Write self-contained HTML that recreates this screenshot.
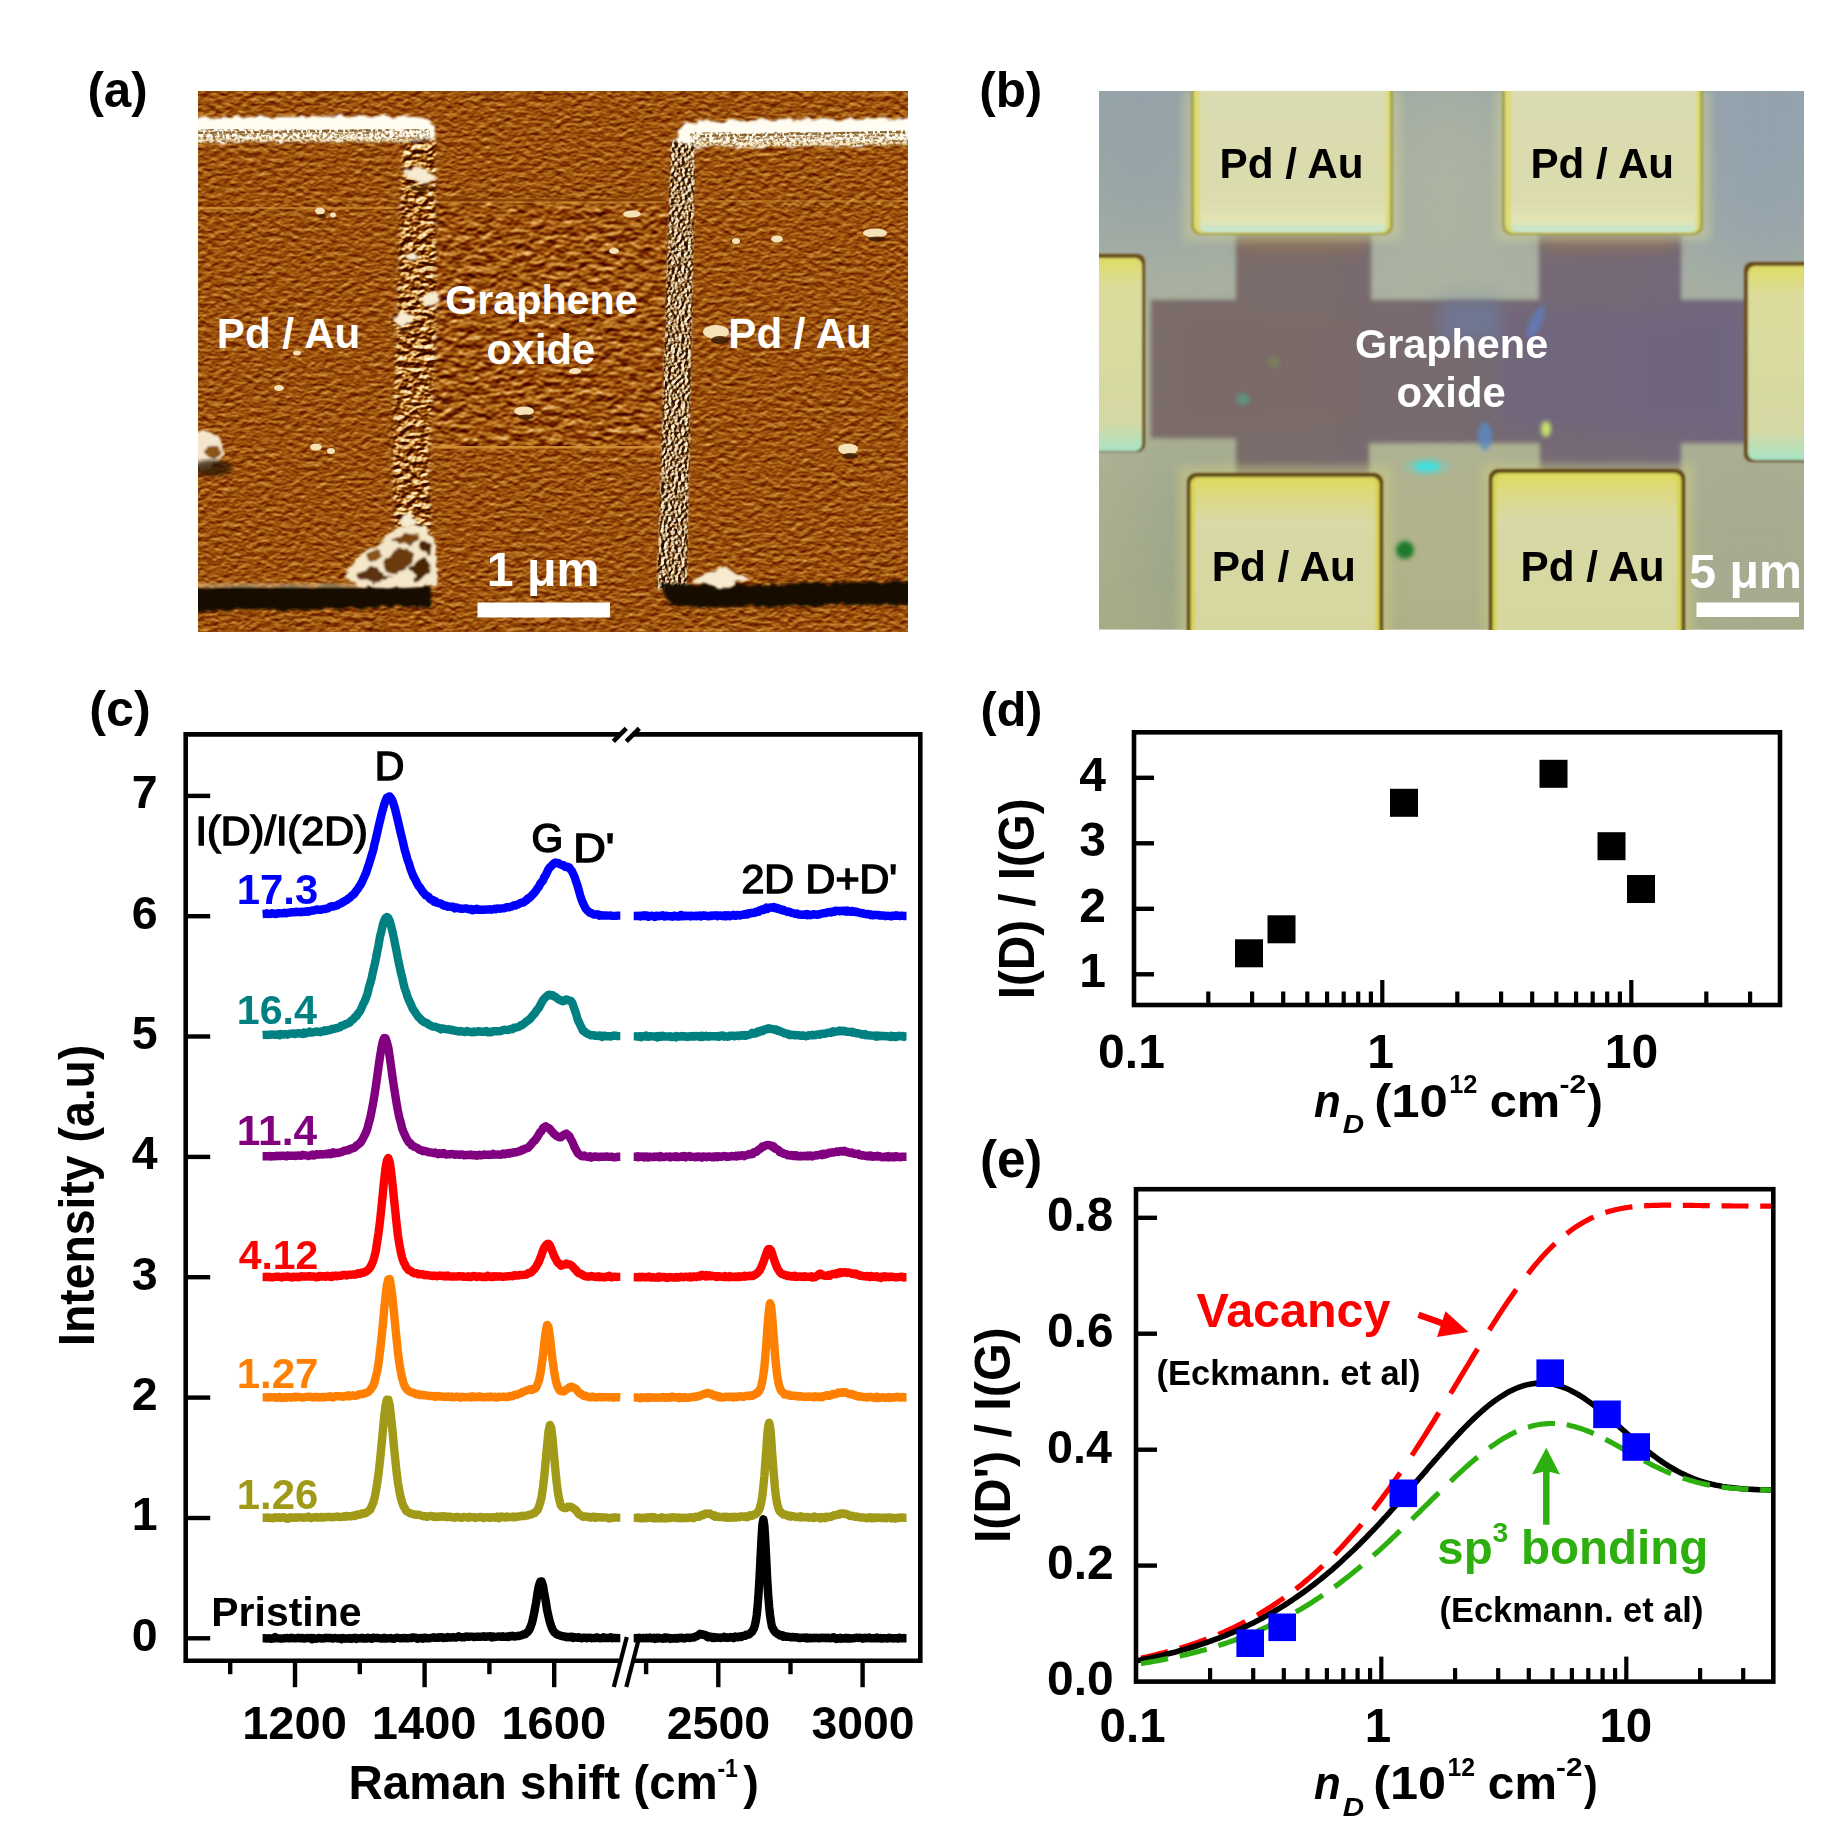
<!DOCTYPE html>
<html><head><meta charset="utf-8"><title>Figure</title>
<style>html,body{margin:0;padding:0;background:#fff}svg{display:block}
text{font-family:"Liberation Sans",Arial,sans-serif;font-weight:bold}
.r{font-weight:normal}
</style></head><body>
<svg width="1836" height="1836" viewBox="0 0 1836 1836">
<rect width="1836" height="1836" fill="#fff"/>

<defs>
<filter id="texA" x="0" y="0" width="100%" height="100%" color-interpolation-filters="sRGB">
  <feTurbulence type="fractalNoise" baseFrequency="0.13 0.2" numOctaves="2" seed="4" result="n"/>
  <feDiffuseLighting in="n" surfaceScale="1.25" diffuseConstant="1" lighting-color="#fff">
    <feDistantLight azimuth="262" elevation="30"/>
  </feDiffuseLighting>
  <feComponentTransfer>
    <feFuncR type="table" tableValues="0.24 0.44 0.605 0.79 1"/>
    <feFuncG type="table" tableValues="0.03 0.14 0.318 0.53 0.92"/>
    <feFuncB type="table" tableValues="0 0 0.04 0.2 0.75"/>
  </feComponentTransfer>
</filter>
<filter id="texGO" x="0" y="0" width="100%" height="100%" color-interpolation-filters="sRGB">
  <feTurbulence type="fractalNoise" baseFrequency="0.095 0.13" numOctaves="2" seed="11" result="n"/>
  <feDiffuseLighting in="n" surfaceScale="2.5" diffuseConstant="1" lighting-color="#fff">
    <feDistantLight azimuth="262" elevation="30"/>
  </feDiffuseLighting>
  <feComponentTransfer>
    <feFuncR type="table" tableValues="0.24 0.44 0.61 0.79 1"/>
    <feFuncG type="table" tableValues="0.03 0.14 0.322 0.53 0.92"/>
    <feFuncB type="table" tableValues="0 0 0.04 0.2 0.75"/>
  </feComponentTransfer>
</filter>
<filter id="speck" x="-5%" y="-5%" width="110%" height="110%" color-interpolation-filters="sRGB">
  <feTurbulence type="fractalNoise" baseFrequency="0.35 0.3" numOctaves="2" seed="8" result="n"/>
  <feColorMatrix in="n" type="matrix" values="0 0 0 0 0  0 0 0 0 0  0 0 0 0 0  3.2 0 0 0 -1.25" result="m"/>
  <feComposite in="SourceGraphic" in2="m" operator="in"/>
</filter>
<filter id="speckD" x="-5%" y="-5%" width="110%" height="110%" color-interpolation-filters="sRGB">
  <feTurbulence type="fractalNoise" baseFrequency="0.3 0.35" numOctaves="2" seed="21" result="n"/>
  <feColorMatrix in="n" type="matrix" values="0 0 0 0 0  0 0 0 0 0  0 0 0 0 0  0 3.2 0 0 -1.35" result="m"/>
  <feComposite in="SourceGraphic" in2="m" operator="in"/>
</filter>
<filter id="rough" x="-5%" y="-20%" width="110%" height="140%">
  <feTurbulence type="fractalNoise" baseFrequency="0.09 0.12" numOctaves="2" seed="5" result="n"/>
  <feDisplacementMap in="SourceGraphic" in2="n" scale="9" xChannelSelector="R" yChannelSelector="G"/>
  <feGaussianBlur stdDeviation="0.8"/>
</filter>
<filter id="texEdge" x="0" y="0" width="100%" height="100%" color-interpolation-filters="sRGB">
  <feTurbulence type="fractalNoise" baseFrequency="0.13 0.17" numOctaves="2" seed="7" result="n"/>
  <feDiffuseLighting in="n" surfaceScale="3.6" diffuseConstant="1" lighting-color="#fff">
    <feDistantLight azimuth="250" elevation="32"/>
  </feDiffuseLighting>
  <feComponentTransfer>
    <feFuncR type="table" tableValues="0.2 0.42 0.62 0.9 1"/>
    <feFuncG type="table" tableValues="0.03 0.15 0.35 0.72 1"/>
    <feFuncB type="table" tableValues="0 0 0.06 0.42 0.9"/>
  </feComponentTransfer>
</filter>
<filter id="texEdge2" x="0" y="0" width="100%" height="100%" color-interpolation-filters="sRGB">
  <feTurbulence type="fractalNoise" baseFrequency="0.3 0.3" numOctaves="2" seed="17" result="n"/>
  <feDiffuseLighting in="n" surfaceScale="4.5" diffuseConstant="1" lighting-color="#fff">
    <feDistantLight azimuth="200" elevation="40"/>
  </feDiffuseLighting>
  <feComponentTransfer>
    <feFuncR type="table" tableValues="0.16 0.36 0.58 0.8 1"/>
    <feFuncG type="table" tableValues="0.06 0.2 0.43 0.7 0.97"/>
    <feFuncB type="table" tableValues="0 0.05 0.24 0.54 0.9"/>
  </feComponentTransfer>
</filter>
<mask id="mEdgeL"><g filter="url(#b2)"><path d="M402,142 L436,139 L437,330 L430,450 L432,586 L398,590 L391,450 L396,330 Z" fill="#fff"/><ellipse cx="420" cy="170" rx="17" ry="20" fill="#fff"/><ellipse cx="410" cy="322" rx="20" ry="12" fill="#fff"/></g></mask>
<mask id="mEdgeR"><g filter="url(#b1)"><path d="M671,140 L695,146 L687,586 L657,590 Z" fill="#fff"/></g></mask>
<filter id="b1"><feGaussianBlur stdDeviation="1.2"/></filter>
<filter id="b2"><feGaussianBlur stdDeviation="2.2"/></filter>
<filter id="b4"><feGaussianBlur stdDeviation="4"/></filter>
<filter id="b8"><feGaussianBlur stdDeviation="8"/></filter>
<filter id="b30" x="-30%" y="-30%" width="160%" height="160%"><feGaussianBlur stdDeviation="40"/></filter>
<clipPath id="ca"><rect x="198" y="91" width="710" height="541"/></clipPath>
<clipPath id="cb"><rect x="1099" y="91" width="705" height="538.5"/></clipPath>
</defs>

<g id="pa" clip-path="url(#ca)">
<rect x="198" y="91" width="710" height="541" fill="#b26210" filter="url(#texA)"/>
<!-- graphene oxide region, bumpier -->
<rect x="425" y="201" width="250" height="246" fill="#b26210" filter="url(#texGO)"/>
<!-- faint horizontal scan lines -->
<rect x="198" y="207" width="210" height="2" fill="#d89a3a" opacity=".6"/>
<rect x="436" y="199" width="230" height="2.2" fill="#7a3a06" opacity=".7"/><rect x="436" y="201.5" width="230" height="1.8" fill="#d89a3a" opacity=".6"/>
<rect x="425" y="446" width="240" height="2.5" fill="#dc9a38" opacity=".8"/>
<rect x="690" y="447" width="218" height="2" fill="#8a4208" opacity=".5"/>
<rect x="690" y="200" width="218" height="2" fill="#d89a3a" opacity=".45"/>
<!-- left pad: top highlight -->
<g filter="url(#rough)">
<path d="M190,117.5 L400,116 L424,118 L436,128 L434,147 L414,142 L300,141.5 L190,143 Z" fill="#fffdf2"/>
</g>
<path d="M190,140 L300,139 L410,139.5" stroke="#f6e4b8" stroke-width="5" fill="none" opacity=".9" filter="url(#rough)"/><path d="M198,133 L320,131 L382,130.5" stroke="#6a4a18" stroke-width="2.2" stroke-dasharray="5,2,2,3,7,2,3,4" fill="none" opacity=".8"/><path d="M204,135 L300,133.5 L372,133" stroke="#a88040" stroke-width="1.6" stroke-dasharray="3,5,6,3,2,6" fill="none" opacity=".8"/>
<rect x="198" y="129" width="232" height="15" fill="#8a5a1c" filter="url(#speckD)" opacity=".9"/>
<!-- left pad right rough edge -->
<rect x="340" y="110" width="110" height="500" filter="url(#texEdge)" mask="url(#mEdgeL)"/>
<g filter="url(#rough)" fill="#f6ead0">
<path d="M403,172 L414,166 L428,170 L436,178 L424,184 L410,180 Z"/>
<path d="M392,318 L402,312 L414,316 L410,324 L398,326 Z"/>
<path d="M418,298 L432,292 L440,300 L428,306 Z"/>
<path d="M404,256 L412,250 L420,256 L412,262 Z"/>
<path d="M398,520 L408,512 L418,520 L408,528 Z"/>
</g>
<g filter="url(#rough)" fill="#4a2406">
<path d="M408,184 L424,188 L432,184 L426,192 L412,190 Z"/>
<path d="M396,328 L410,328 L404,333 Z"/>
</g>
<!-- bottom shadow left pad -->
<g filter="url(#rough)">
<path d="M190,587.5 L360,585.5 L431,587 L430,606 L330,609 L190,611 Z" fill="#120900"/>
</g>
<rect x="198" y="583" width="170" height="5" fill="#e8c890" opacity=".55" filter="url(#b1)"/>
<!-- corner blob -->
<g filter="url(#rough)">
<path d="M346,576 L356,560 L370,548 L384,540 L392,530 L410,524 L428,528 L436,546 L436,586 L404,588 L360,586 Z" fill="#f4e6c8"/>
<path d="M384,562 L398,548 L414,552 L408,568 L390,574 Z" fill="#6a3a0c"/>
<path d="M410,566 L426,556 L432,572 L416,582 Z" fill="#4a2606"/>
<path d="M356,574 L372,566 L390,578 L372,584 Z" fill="#5a300a"/>
<path d="M392,540 L404,532 L420,536 L410,546 Z" fill="#7a4410"/>
<path d="M420,540 L432,544 L430,554 L420,550 Z" fill="#4a2606"/>
<path d="M366,556 L378,548 L384,556 L372,562 Z" fill="#8a5418"/>
</g>
<!-- left edge blob -->
<g filter="url(#rough)"><ellipse cx="203" cy="450" rx="20" ry="19" fill="#f4e6cc"/><ellipse cx="212" cy="452" rx="8" ry="6" fill="#8a5418"/></g>
<ellipse cx="212" cy="468" rx="20" ry="8" fill="#2a1402" opacity=".8" filter="url(#b2)"/>
<!-- right pad top highlight -->
<g filter="url(#rough)">
<path d="M672,142 L686,122 L800,119.5 L915,118 L915,144 L800,146 L700,147 L682,150 Z" fill="#fffdf2"/>
</g>
<path d="M696,145 L800,144 L915,142" stroke="#f6e4b8" stroke-width="5" fill="none" opacity=".9" filter="url(#rough)"/><path d="M700,136 L800,134 L908,131.5" stroke="#6a4a18" stroke-width="2.2" stroke-dasharray="5,2,2,3,7,2,3,4" fill="none" opacity=".8"/><path d="M706,139 L800,137 L900,135" stroke="#a88040" stroke-width="1.6" stroke-dasharray="3,5,6,3,2,6" fill="none" opacity=".8"/>
<rect x="690" y="132" width="218" height="15" fill="#8a5a1c" filter="url(#speckD)" opacity=".9"/>
<!-- right pad left edge -->
<rect x="650" y="130" width="55" height="470" filter="url(#texEdge2)" mask="url(#mEdgeR)"/>
<!-- bottom shadow right pad -->
<g filter="url(#rough)">
<path d="M661,583 L700,585 L915,581 L915,604 L700,607 L670,605 Z" fill="#120900"/>
</g>
<g filter="url(#rough)"><path d="M690,582 L725,566 L748,580 L720,588 Z" fill="#f6ead0"/></g>
<!-- small particles -->
<g fill="#f6e2b8">
<ellipse cx="320" cy="211" rx="5" ry="3.5"/><ellipse cx="333" cy="215" rx="3" ry="2.5"/>
<ellipse cx="279" cy="388" rx="5" ry="3"/><ellipse cx="316" cy="447" rx="6" ry="3.5"/><ellipse cx="331" cy="451" rx="4" ry="3"/>
<ellipse cx="297" cy="353" rx="4" ry="2.5"/>
<ellipse cx="632" cy="214" rx="9" ry="3.5"/><ellipse cx="614" cy="251" rx="5" ry="3"/>
<ellipse cx="524" cy="411" rx="10" ry="4.5"/><ellipse cx="575" cy="371" rx="6" ry="3"/>
<ellipse cx="716" cy="332" rx="13" ry="7"/><ellipse cx="777" cy="239" rx="6" ry="3.5"/>
<ellipse cx="875" cy="233" rx="12" ry="4.5"/><ellipse cx="848" cy="449" rx="10" ry="5.5"/><ellipse cx="736" cy="241" rx="4" ry="3"/>
</g>
<g fill="#3a1a02" opacity=".85">
<ellipse cx="720" cy="340" rx="9" ry="4"/><ellipse cx="850" cy="456" rx="8" ry="3"/><ellipse cx="877" cy="239" rx="9" ry="2.5"/>
<ellipse cx="526" cy="417" rx="8" ry="2.5"/><ellipse cx="322" cy="216" rx="4" ry="2"/>
</g>
<!-- labels -->
<rect x="477.5" y="602.5" width="132.5" height="15" fill="#fff"/>
</g>

<text x="87.4" y="107.2" font-size="49.33" fill="#000">(a)</text>
<text x="216.8" y="347.5" font-size="42.11" fill="#fff">Pd / Au</text>
<text x="728.3" y="347.5" font-size="42.14" fill="#fff">Pd / Au</text>
<text x="445.2" y="314.0" font-size="41.22" fill="#fff">Graphene</text>
<text x="486.4" y="364.0" font-size="41.62" fill="#fff">oxide</text>
<text x="486.7" y="586.4" font-size="48.31" fill="#fff">1 μm</text>
<g id="pb" clip-path="url(#cb)">
<linearGradient id="bgb" x1="0" y1="0" x2="0" y2="1">
 <stop offset="0" stop-color="#98a6a8"/><stop offset=".35" stop-color="#a9b1a1"/><stop offset=".7" stop-color="#adb293"/><stop offset="1" stop-color="#a9ad86"/>
</linearGradient>
<linearGradient id="gog" x1="0" y1="0" x2="1" y2="0"><stop offset="0" stop-color="#7b6d69"/><stop offset=".5" stop-color="#776b70"/><stop offset="1" stop-color="#72687c"/></linearGradient>
<linearGradient id="padT" x1="0" y1="0" x2="0" y2="1">
 <stop offset="0" stop-color="#d9dbb0"/><stop offset=".8" stop-color="#dcdcae"/><stop offset=".93" stop-color="#e2e4b4"/><stop offset="1" stop-color="#bfe6d2"/>
</linearGradient>
<linearGradient id="padB" x1="0" y1="0" x2="0" y2="1">
 <stop offset="0" stop-color="#dedc62"/><stop offset=".12" stop-color="#dcd98a"/><stop offset=".25" stop-color="#d9d9a6"/><stop offset="1" stop-color="#d6d69e"/>
</linearGradient>
<linearGradient id="padS" x1="0" y1="0" x2="0" y2="1">
 <stop offset="0" stop-color="#dedc66"/><stop offset=".15" stop-color="#dcdc9c"/><stop offset=".85" stop-color="#d6d8a4"/><stop offset="1" stop-color="#a8e4c4"/>
</linearGradient>
<rect x="1099" y="91" width="705" height="539" fill="url(#bgb)"/>
<!-- large soft colour variations -->
<g filter="url(#b30)">
<rect x="1080" y="70" width="120" height="170" fill="#8a9cac" opacity=".4"/>
<rect x="1700" y="70" width="130" height="200" fill="#8c9cb4" opacity=".6"/>
<rect x="1380" y="80" width="130" height="180" fill="#b4b8a0" opacity=".7"/>
<rect x="1150" y="450" width="80" height="190" fill="#8f9c8c" opacity=".6"/>
<rect x="1380" y="460" width="120" height="180" fill="#b6b68c" opacity=".7"/>
<rect x="1690" y="450" width="130" height="190" fill="#a4a894" opacity=".7"/>
</g>
<!-- graphene oxide -->
<g filter="url(#b2)">
<path d="M1151,300 H1236 V228 H1371 V300 H1539 V228 H1681 V300 H1746 V443 H1681 V478 H1540 V443 H1369 V478 H1236 V438 H1151 Z" fill="url(#gog)"/>
</g>
<g filter="url(#b8)" opacity=".55">
<rect x="1240" y="234" width="125" height="16" fill="#a07848"/>
<rect x="1543" y="234" width="134" height="16" fill="#a07848"/>
<rect x="1500" y="310" width="240" height="120" fill="#6f6482"/>
<rect x="1160" y="310" width="200" height="120" fill="#7c6a66"/>
<rect x="1440" y="300" width="60" height="40" fill="#6a80b0"/>
</g>
<!-- lighter halo around pads -->
<g filter="url(#b4)" opacity=".55">
<rect x="1183" y="91" width="218" height="150" fill="#c8cc9c"/>
<rect x="1495" y="91" width="216" height="150" fill="#c8cc9c"/>
<rect x="1178" y="466" width="214" height="170" fill="#c8c884"/>
<rect x="1482" y="464" width="212" height="170" fill="#c8c884"/>
</g>
<!-- top pads -->
<g filter="url(#b1)">
<rect x="1191" y="70" width="202" height="165" rx="9" fill="#a8a04a"/>
<rect x="1502" y="70" width="201" height="165" rx="9" fill="#a8a04a"/>
<rect x="1194" y="70" width="196" height="163" rx="8" fill="#dcdc78"/>
<rect x="1505" y="70" width="195" height="163" rx="8" fill="#dcdc78"/>
<rect x="1200" y="70" width="186" height="162" rx="6" fill="url(#padT)"/>
<rect x="1511" y="70" width="185" height="162" rx="6" fill="url(#padT)"/>
</g>
<!-- side pads -->
<g filter="url(#b1)">
<rect x="1070" y="254" width="75" height="198" rx="8" fill="#6a4a18"/>
<rect x="1070" y="258" width="72" height="193" rx="7" fill="url(#padS)"/>
<rect x="1744" y="262" width="90" height="200" rx="8" fill="#6a4a18"/>
<rect x="1748" y="266" width="90" height="194" rx="7" fill="url(#padS)"/>
</g>
<!-- bottom pads -->
<g filter="url(#b1)">
<rect x="1187" y="473" width="196" height="180" rx="9" fill="#5e4612"/>
<rect x="1489" y="469" width="196" height="180" rx="9" fill="#5e4612"/>
<rect x="1190.5" y="477" width="189" height="180" rx="7" fill="#d8d456"/>
<rect x="1492.5" y="473" width="189" height="180" rx="7" fill="#d8d456"/>
<rect x="1195" y="479" width="180" height="180" rx="5" fill="url(#padB)"/>
<rect x="1497" y="475" width="180" height="180" rx="5" fill="url(#padB)"/>
</g>
<!-- spots -->
<g filter="url(#b2)">
<ellipse cx="1427" cy="466.5" rx="13" ry="5.5" fill="#38e0dc"/>
<ellipse cx="1427" cy="466.5" rx="24" ry="9" fill="#60d8d8" opacity=".3"/>
<circle cx="1405" cy="550" r="9" fill="#1f7a2a"/>
<ellipse cx="1546" cy="429" rx="5" ry="8" fill="#c8e070"/>
<ellipse cx="1485" cy="436" rx="7" ry="14" fill="#5a8cc8" opacity=".8"/>
<ellipse cx="1243" cy="399" rx="7" ry="6" fill="#5a9a84" opacity=".8"/>
<ellipse cx="1274" cy="362" rx="6" ry="6" fill="#7a8a5c" opacity=".7"/>
<ellipse cx="1536" cy="322" rx="6" ry="18" fill="#5a84d0" opacity=".6" transform="rotate(25 1536 322)"/>
</g>
<!-- labels -->
<rect x="1696.5" y="602.5" width="102.5" height="14.5" fill="#fff"/>
</g>

<text x="979.2" y="106.5" font-size="49.41" fill="#000">(b)</text>
<text x="1219.6" y="177.5" font-size="42.26" fill="#000">Pd / Au</text>
<text x="1530.5" y="177.5" font-size="42.14" fill="#000">Pd / Au</text>
<text x="1211.7" y="581.3" font-size="42.32" fill="#000">Pd / Au</text>
<text x="1520.6" y="581.3" font-size="42.26" fill="#000">Pd / Au</text>
<text x="1355.0" y="357.7" font-size="41.39" fill="#fff">Graphene</text>
<text x="1396.6" y="406.7" font-size="41.81" fill="#fff">oxide</text>
<text x="1689.3" y="587.7" font-size="48.24" fill="#fff">5 μm</text>
<g id="pc">
<path d="M185.7,1660.7 V734.4 H618.3 M634.3,734.4 H920.3 V1660.7 H634.3 M618.3,1660.7 H185.7" fill="none" stroke="#000" stroke-width="4.6" stroke-linecap="square"/>
<line x1="613.3" y1="741.4" x2="626.3" y2="728.4" stroke="#000" stroke-width="4.6"/>
<line x1="626.3" y1="741.4" x2="639.3" y2="728.4" stroke="#000" stroke-width="4.6"/>
<line x1="613.8" y1="1687" x2="626.8" y2="1637" stroke="#000" stroke-width="4.2"/>
<line x1="626.3" y1="1687" x2="639.3" y2="1637" stroke="#000" stroke-width="4.2"/>
<line x1="185.7" y1="1638.3" x2="210.2" y2="1638.3" stroke="#000" stroke-width="4.4"/>
<text x="157.5" y="1650.7" font-size="46.5" text-anchor="end">0</text>
<line x1="185.7" y1="1518.0" x2="210.2" y2="1518.0" stroke="#000" stroke-width="4.4"/>
<text x="157.5" y="1530.4" font-size="46.5" text-anchor="end">1</text>
<line x1="185.7" y1="1397.6" x2="210.2" y2="1397.6" stroke="#000" stroke-width="4.4"/>
<text x="157.5" y="1410.0" font-size="46.5" text-anchor="end">2</text>
<line x1="185.7" y1="1277.2" x2="210.2" y2="1277.2" stroke="#000" stroke-width="4.4"/>
<text x="157.5" y="1289.7" font-size="46.5" text-anchor="end">3</text>
<line x1="185.7" y1="1156.9" x2="210.2" y2="1156.9" stroke="#000" stroke-width="4.4"/>
<text x="157.5" y="1169.3" font-size="46.5" text-anchor="end">4</text>
<line x1="185.7" y1="1036.5" x2="210.2" y2="1036.5" stroke="#000" stroke-width="4.4"/>
<text x="157.5" y="1049.0" font-size="46.5" text-anchor="end">5</text>
<line x1="185.7" y1="916.2" x2="210.2" y2="916.2" stroke="#000" stroke-width="4.4"/>
<text x="157.5" y="928.6" font-size="46.5" text-anchor="end">6</text>
<line x1="185.7" y1="795.9" x2="210.2" y2="795.9" stroke="#000" stroke-width="4.4"/>
<text x="157.5" y="808.2" font-size="46.5" text-anchor="end">7</text>
<line x1="230.2" y1="1660.7" x2="230.2" y2="1674.2" stroke="#000" stroke-width="4.4"/>
<line x1="295.0" y1="1660.7" x2="295.0" y2="1687.2" stroke="#000" stroke-width="4.4"/>
<text x="242.2" y="1739.3" font-size="47.06" fill="#000">1200</text>
<line x1="359.8" y1="1660.7" x2="359.8" y2="1674.2" stroke="#000" stroke-width="4.4"/>
<line x1="424.6" y1="1660.7" x2="424.6" y2="1687.2" stroke="#000" stroke-width="4.4"/>
<text x="371.8" y="1739.3" font-size="47.06" fill="#000">1400</text>
<line x1="489.4" y1="1660.7" x2="489.4" y2="1674.2" stroke="#000" stroke-width="4.4"/>
<line x1="554.2" y1="1660.7" x2="554.2" y2="1687.2" stroke="#000" stroke-width="4.4"/>
<text x="501.4" y="1739.3" font-size="47.06" fill="#000">1600</text>
<line x1="646.1" y1="1660.7" x2="646.1" y2="1674.2" stroke="#000" stroke-width="4.4"/>
<line x1="718.3" y1="1660.7" x2="718.3" y2="1687.2" stroke="#000" stroke-width="4.4"/>
<text x="666.7" y="1739.3" font-size="46.51" fill="#000">2500</text>
<line x1="790.5" y1="1660.7" x2="790.5" y2="1674.2" stroke="#000" stroke-width="4.4"/>
<line x1="862.6" y1="1660.7" x2="862.6" y2="1687.2" stroke="#000" stroke-width="4.4"/>
<text x="811.5" y="1739.3" font-size="46.30" fill="#000">3000</text>
<text x="348.6" y="1799.0" font-size="47.46" fill="#000">Raman shift (cm</text><text transform="translate(717.4,1777.3) scale(0.8858,1)" font-size="26.00" fill="#000">-1</text><text transform="translate(743.3,1799.0) scale(1.0111,1)" font-size="46.50" fill="#000">)</text>
<text transform="translate(93.7,1346.0) rotate(-90) scale(1,1.075)" font-size="46.37" fill="#000">Intensity (a.u)</text>
<path d="M262.6,1638.3 L264.0,1638.3 L265.4,1638.3 L266.7,1638.5 L268.1,1638.4 L269.5,1638.3 L270.9,1638.9 L272.3,1638.3 L273.6,1638.6 L275.0,1637.1 L276.4,1638.2 L277.8,1638.4 L279.2,1638.4 L280.6,1638.5 L281.9,1638.6 L283.3,1638.4 L284.7,1638.1 L286.1,1638.3 L287.5,1637.9 L288.8,1638.3 L290.2,1638.3 L291.6,1637.7 L293.0,1638.1 L294.4,1638.4 L295.7,1638.3 L297.1,1638.1 L298.5,1637.6 L299.9,1638.4 L301.3,1638.3 L302.7,1637.9 L304.0,1638.6 L305.4,1638.4 L306.8,1638.0 L308.2,1638.1 L309.6,1638.2 L310.9,1638.0 L312.3,1639.2 L313.7,1637.9 L315.1,1638.6 L316.5,1638.8 L317.8,1638.2 L319.2,1638.0 L320.6,1638.4 L322.0,1638.6 L323.4,1638.2 L324.7,1638.3 L326.1,1637.8 L327.5,1638.0 L328.9,1638.2 L330.3,1637.9 L331.7,1638.3 L333.0,1638.6 L334.4,1638.0 L335.8,1638.0 L337.2,1638.3 L338.6,1638.5 L339.9,1638.2 L341.3,1639.1 L342.7,1638.0 L344.1,1638.1 L345.5,1638.8 L346.8,1638.2 L348.2,1638.6 L349.6,1638.0 L351.0,1638.9 L352.4,1638.5 L353.8,1638.0 L355.1,1637.8 L356.5,1639.0 L357.9,1638.4 L359.3,1638.1 L360.7,1638.4 L362.0,1637.7 L363.4,1638.6 L364.8,1638.1 L366.2,1638.6 L367.6,1637.7 L368.9,1638.2 L370.3,1638.3 L371.7,1638.8 L373.1,1637.6 L374.5,1638.0 L375.8,1638.0 L377.2,1637.8 L378.6,1638.1 L380.0,1638.4 L381.4,1638.5 L382.8,1638.5 L384.1,1637.7 L385.5,1638.7 L386.9,1638.4 L388.3,1638.3 L389.7,1638.1 L391.0,1638.0 L392.4,1638.6 L393.8,1638.8 L395.2,1638.2 L396.6,1637.8 L397.9,1637.9 L399.3,1638.1 L400.7,1638.3 L402.1,1638.1 L403.5,1638.2 L404.8,1637.9 L406.2,1638.4 L407.6,1638.1 L409.0,1638.2 L410.4,1637.9 L411.8,1638.0 L413.1,1637.3 L414.5,1637.6 L415.9,1637.6 L417.3,1638.8 L418.7,1638.2 L420.0,1638.3 L421.4,1637.9 L422.8,1638.8 L424.2,1637.6 L425.6,1637.7 L426.9,1638.4 L428.3,1638.3 L429.7,1638.2 L431.1,1637.9 L432.5,1637.7 L433.9,1637.2 L435.2,1637.9 L436.6,1637.6 L438.0,1637.8 L439.4,1637.2 L440.8,1637.5 L442.1,1637.2 L443.5,1638.0 L444.9,1637.7 L446.3,1637.9 L447.7,1637.0 L449.0,1637.3 L450.4,1637.5 L451.8,1637.5 L453.2,1637.2 L454.6,1637.5 L455.9,1637.5 L457.3,1637.0 L458.7,1636.3 L460.1,1637.1 L461.5,1637.2 L462.9,1637.3 L464.2,1637.3 L465.6,1636.7 L467.0,1636.5 L468.4,1636.8 L469.8,1636.6 L471.1,1636.6 L472.5,1636.6 L473.9,1637.1 L475.3,1636.8 L476.7,1636.6 L478.0,1636.8 L479.4,1636.7 L480.8,1636.9 L482.2,1636.7 L483.6,1636.3 L485.0,1636.8 L486.3,1636.7 L487.7,1636.4 L489.1,1636.5 L490.5,1636.2 L491.9,1637.5 L493.2,1636.5 L494.6,1637.0 L496.0,1636.8 L497.4,1636.6 L498.8,1636.5 L500.1,1636.5 L501.5,1636.8 L502.9,1636.3 L504.3,1636.9 L505.7,1636.9 L507.0,1636.5 L508.4,1637.0 L509.8,1636.0 L511.2,1636.3 L512.6,1635.8 L514.0,1636.5 L515.3,1636.5 L516.7,1636.2 L518.1,1635.8 L519.5,1636.0 L520.9,1635.4 L522.2,1635.2 L523.6,1634.2 L525.0,1634.3 L526.4,1632.8 L527.8,1632.0 L529.1,1630.1 L530.5,1627.1 L531.9,1623.2 L533.3,1617.2 L534.7,1610.1 L536.1,1602.4 L537.4,1593.8 L538.8,1586.0 L540.2,1581.7 L541.6,1581.4 L543.0,1585.8 L544.3,1593.4 L545.7,1601.0 L547.1,1610.0 L548.5,1616.3 L549.9,1622.2 L551.2,1626.1 L552.6,1629.6 L554.0,1632.0 L555.4,1633.0 L556.8,1634.3 L558.1,1634.9 L559.5,1635.3 L560.9,1635.8 L562.3,1636.1 L563.7,1636.5 L565.1,1636.5 L566.4,1637.4 L567.8,1636.9 L569.2,1637.3 L570.6,1636.7 L572.0,1636.7 L573.3,1637.9 L574.7,1637.3 L576.1,1637.4 L577.5,1637.8 L578.9,1637.3 L580.2,1637.7 L581.6,1638.2 L583.0,1637.7 L584.4,1637.7 L585.8,1637.7 L587.2,1638.2 L588.5,1637.6 L589.9,1637.6 L591.3,1638.2 L592.7,1638.1 L594.1,1637.9 L595.4,1638.1 L596.8,1637.3 L598.2,1637.9 L599.6,1638.3 L601.0,1638.2 L602.3,1638.0 L603.7,1637.2 L605.1,1638.1 L606.5,1638.0 L607.9,1637.8 L609.2,1638.0 L610.6,1637.3 L612.0,1638.2 L613.4,1637.8 L614.8,1638.0 L616.2,1637.9 L617.5,1638.1 L618.9,1638.1 L620.3,1638.1" fill="none" stroke="#000000" stroke-width="8.4" stroke-linejoin="round" stroke-linecap="butt"/>
<path d="M633.7,1638.2 L634.7,1638.2 L635.6,1638.2 L636.6,1638.0 L637.6,1637.9 L638.5,1638.0 L639.5,1637.8 L640.4,1638.0 L641.4,1638.2 L642.4,1637.9 L643.3,1638.0 L644.3,1638.3 L645.2,1638.0 L646.2,1637.8 L647.2,1638.1 L648.1,1638.3 L649.1,1638.0 L650.0,1637.6 L651.0,1638.3 L652.0,1638.2 L652.9,1638.2 L653.9,1637.8 L654.8,1638.8 L655.8,1638.1 L656.8,1637.8 L657.7,1638.5 L658.7,1637.7 L659.6,1638.0 L660.6,1638.4 L661.6,1638.1 L662.5,1638.7 L663.5,1638.4 L664.5,1637.6 L665.4,1638.5 L666.4,1637.5 L667.3,1638.2 L668.3,1637.8 L669.3,1638.1 L670.2,1638.9 L671.2,1638.3 L672.1,1638.1 L673.1,1638.5 L674.1,1638.6 L675.0,1638.0 L676.0,1638.3 L676.9,1638.7 L677.9,1638.3 L678.9,1637.8 L679.8,1638.3 L680.8,1637.8 L681.7,1637.6 L682.7,1638.1 L683.7,1638.4 L684.6,1638.5 L685.6,1638.0 L686.5,1637.7 L687.5,1637.8 L688.5,1637.7 L689.4,1638.0 L690.4,1637.6 L691.3,1637.7 L692.3,1637.5 L693.3,1637.6 L694.2,1637.4 L695.2,1636.7 L696.2,1636.5 L697.1,1636.1 L698.1,1635.1 L699.0,1635.0 L700.0,1633.7 L701.0,1634.2 L701.9,1634.7 L702.9,1634.3 L703.8,1634.7 L704.8,1635.4 L705.8,1635.2 L706.7,1636.2 L707.7,1637.4 L708.6,1636.4 L709.6,1637.2 L710.6,1636.7 L711.5,1637.6 L712.5,1637.9 L713.4,1637.1 L714.4,1638.0 L715.4,1637.6 L716.3,1637.2 L717.3,1637.7 L718.2,1637.8 L719.2,1637.7 L720.2,1637.4 L721.1,1638.0 L722.1,1637.5 L723.1,1637.5 L724.0,1636.9 L725.0,1637.7 L725.9,1637.9 L726.9,1637.3 L727.9,1637.7 L728.8,1637.4 L729.8,1637.4 L730.7,1637.0 L731.7,1637.6 L732.7,1637.3 L733.6,1638.1 L734.6,1637.5 L735.5,1636.6 L736.5,1637.3 L737.5,1637.2 L738.4,1637.3 L739.4,1636.5 L740.3,1636.5 L741.3,1636.9 L742.3,1636.1 L743.2,1636.0 L744.2,1635.7 L745.1,1635.9 L746.1,1634.8 L747.1,1634.9 L748.0,1634.7 L749.0,1634.4 L749.9,1633.7 L750.9,1632.6 L751.9,1632.1 L752.8,1630.3 L753.8,1628.6 L754.8,1625.6 L755.7,1621.5 L756.7,1615.3 L757.6,1606.5 L758.6,1592.8 L759.6,1576.3 L760.5,1557.7 L761.5,1538.7 L762.4,1524.5 L763.4,1519.3 L764.4,1526.0 L765.3,1540.7 L766.3,1560.1 L767.2,1579.0 L768.2,1595.2 L769.2,1607.2 L770.1,1615.7 L771.1,1622.2 L772.0,1626.7 L773.0,1628.6 L774.0,1630.4 L774.9,1631.8 L775.9,1632.7 L776.8,1633.3 L777.8,1634.1 L778.8,1634.5 L779.7,1635.4 L780.7,1634.9 L781.6,1635.6 L782.6,1635.3 L783.6,1636.8 L784.5,1636.1 L785.5,1636.2 L786.5,1636.8 L787.4,1636.6 L788.4,1636.6 L789.3,1636.8 L790.3,1637.3 L791.3,1637.2 L792.2,1636.9 L793.2,1636.9 L794.1,1637.3 L795.1,1637.4 L796.1,1637.4 L797.0,1637.2 L798.0,1637.9 L798.9,1638.0 L799.9,1637.6 L800.9,1638.0 L801.8,1637.9 L802.8,1637.7 L803.7,1637.6 L804.7,1638.1 L805.7,1637.5 L806.6,1638.4 L807.6,1637.7 L808.5,1638.4 L809.5,1638.3 L810.5,1637.7 L811.4,1638.0 L812.4,1638.2 L813.4,1638.1 L814.3,1637.8 L815.3,1638.0 L816.2,1638.0 L817.2,1637.6 L818.2,1638.2 L819.1,1638.2 L820.1,1638.2 L821.0,1637.6 L822.0,1637.7 L823.0,1637.6 L823.9,1638.1 L824.9,1638.1 L825.8,1637.8 L826.8,1638.2 L827.8,1637.8 L828.7,1637.8 L829.7,1638.3 L830.6,1638.1 L831.6,1638.1 L832.6,1637.5 L833.5,1637.2 L834.5,1638.2 L835.4,1638.1 L836.4,1638.9 L837.4,1638.1 L838.3,1638.1 L839.3,1638.5 L840.2,1637.9 L841.2,1638.7 L842.2,1638.2 L843.1,1638.1 L844.1,1638.6 L845.1,1637.9 L846.0,1637.8 L847.0,1638.6 L847.9,1638.6 L848.9,1638.0 L849.9,1638.2 L850.8,1638.6 L851.8,1638.3 L852.7,1638.2 L853.7,1638.2 L854.7,1637.9 L855.6,1638.1 L856.6,1637.6 L857.5,1637.7 L858.5,1638.0 L859.5,1637.8 L860.4,1637.8 L861.4,1638.0 L862.3,1638.6 L863.3,1637.9 L864.3,1638.2 L865.2,1637.7 L866.2,1638.2 L867.1,1638.0 L868.1,1638.1 L869.1,1637.6 L870.0,1638.2 L871.0,1638.3 L871.9,1638.1 L872.9,1638.4 L873.9,1638.2 L874.8,1638.2 L875.8,1638.1 L876.8,1637.6 L877.7,1638.4 L878.7,1638.2 L879.6,1638.3 L880.6,1638.0 L881.6,1638.6 L882.5,1638.5 L883.5,1638.2 L884.4,1638.1 L885.4,1638.3 L886.4,1638.4 L887.3,1638.5 L888.3,1638.1 L889.2,1637.8 L890.2,1638.1 L891.2,1638.2 L892.1,1638.1 L893.1,1638.6 L894.0,1638.3 L895.0,1638.3 L896.0,1638.1 L896.9,1638.3 L897.9,1638.7 L898.8,1637.9 L899.8,1637.7 L900.8,1638.3 L901.7,1638.1 L902.7,1638.2 L903.7,1638.0 L904.6,1638.3 L905.6,1638.3 L906.5,1638.3" fill="none" stroke="#000000" stroke-width="8.4" stroke-linejoin="round" stroke-linecap="butt"/>
<text x="211.3" y="1625.7" font-size="40.95" fill="#000000">Pristine</text>
<path d="M262.6,1517.8 L264.0,1517.8 L265.4,1517.8 L266.7,1517.8 L268.1,1517.4 L269.5,1518.0 L270.9,1517.9 L272.3,1517.9 L273.6,1518.3 L275.0,1517.3 L276.4,1517.5 L277.8,1517.7 L279.2,1517.3 L280.6,1518.0 L281.9,1517.7 L283.3,1517.1 L284.7,1517.3 L286.1,1518.4 L287.5,1518.8 L288.8,1518.0 L290.2,1517.3 L291.6,1517.8 L293.0,1517.7 L294.4,1517.4 L295.7,1517.9 L297.1,1517.5 L298.5,1517.3 L299.9,1517.4 L301.3,1517.4 L302.7,1517.8 L304.0,1517.4 L305.4,1517.7 L306.8,1517.1 L308.2,1516.6 L309.6,1517.7 L310.9,1518.2 L312.3,1517.6 L313.7,1517.3 L315.1,1517.1 L316.5,1517.0 L317.8,1517.6 L319.2,1517.6 L320.6,1516.9 L322.0,1517.7 L323.4,1516.9 L324.7,1517.3 L326.1,1517.0 L327.5,1517.0 L328.9,1516.9 L330.3,1516.9 L331.7,1517.4 L333.0,1516.9 L334.4,1517.0 L335.8,1516.8 L337.2,1516.5 L338.6,1516.9 L339.9,1517.0 L341.3,1517.0 L342.7,1516.7 L344.1,1516.3 L345.5,1516.7 L346.8,1516.0 L348.2,1516.2 L349.6,1516.2 L351.0,1516.5 L352.4,1515.8 L353.8,1515.5 L355.1,1516.1 L356.5,1514.9 L357.9,1514.5 L359.3,1514.7 L360.7,1514.4 L362.0,1513.4 L363.4,1513.3 L364.8,1513.5 L366.2,1512.6 L367.6,1511.7 L368.9,1510.5 L370.3,1509.6 L371.7,1506.1 L373.1,1503.2 L374.5,1498.2 L375.8,1491.9 L377.2,1483.1 L378.6,1473.1 L380.0,1460.8 L381.4,1446.3 L382.8,1431.3 L384.1,1417.9 L385.5,1406.0 L386.9,1399.7 L388.3,1399.6 L389.7,1404.9 L391.0,1416.6 L392.4,1429.8 L393.8,1445.0 L395.2,1458.8 L396.6,1472.1 L397.9,1482.6 L399.3,1490.6 L400.7,1497.5 L402.1,1502.5 L403.5,1506.2 L404.8,1508.4 L406.2,1510.8 L407.6,1511.9 L409.0,1512.5 L410.4,1513.4 L411.8,1513.9 L413.1,1514.1 L414.5,1514.5 L415.9,1514.8 L417.3,1514.5 L418.7,1514.9 L420.0,1515.1 L421.4,1515.7 L422.8,1516.0 L424.2,1516.4 L425.6,1516.2 L426.9,1516.9 L428.3,1516.5 L429.7,1516.1 L431.1,1515.9 L432.5,1516.2 L433.9,1516.9 L435.2,1516.5 L436.6,1517.0 L438.0,1516.5 L439.4,1516.9 L440.8,1516.6 L442.1,1516.1 L443.5,1516.7 L444.9,1516.2 L446.3,1517.0 L447.7,1517.2 L449.0,1516.7 L450.4,1516.6 L451.8,1517.4 L453.2,1517.2 L454.6,1517.7 L455.9,1517.3 L457.3,1516.9 L458.7,1517.3 L460.1,1517.5 L461.5,1517.8 L462.9,1517.2 L464.2,1517.0 L465.6,1517.1 L467.0,1517.2 L468.4,1517.8 L469.8,1516.8 L471.1,1517.4 L472.5,1517.4 L473.9,1517.1 L475.3,1518.1 L476.7,1517.4 L478.0,1517.4 L479.4,1517.2 L480.8,1516.9 L482.2,1517.2 L483.6,1518.0 L485.0,1517.5 L486.3,1517.3 L487.7,1517.3 L489.1,1517.8 L490.5,1517.9 L491.9,1517.1 L493.2,1517.2 L494.6,1517.3 L496.0,1517.8 L497.4,1516.7 L498.8,1518.2 L500.1,1517.3 L501.5,1516.5 L502.9,1517.2 L504.3,1517.0 L505.7,1517.5 L507.0,1516.6 L508.4,1517.4 L509.8,1516.9 L511.2,1516.9 L512.6,1517.2 L514.0,1516.5 L515.3,1517.2 L516.7,1516.8 L518.1,1516.5 L519.5,1516.6 L520.9,1516.1 L522.2,1515.8 L523.6,1516.1 L525.0,1516.0 L526.4,1515.7 L527.8,1515.4 L529.1,1514.7 L530.5,1514.6 L531.9,1514.0 L533.3,1513.5 L534.7,1513.0 L536.1,1511.3 L537.4,1510.2 L538.8,1507.2 L540.2,1502.6 L541.6,1497.1 L543.0,1487.7 L544.3,1476.1 L545.7,1461.0 L547.1,1445.6 L548.5,1431.6 L549.9,1424.9 L551.2,1427.9 L552.6,1439.0 L554.0,1454.9 L555.4,1470.1 L556.8,1483.5 L558.1,1493.6 L559.5,1500.7 L560.9,1505.5 L562.3,1507.2 L563.7,1507.7 L565.1,1508.1 L566.4,1508.0 L567.8,1506.6 L569.2,1506.7 L570.6,1506.7 L572.0,1507.4 L573.3,1508.3 L574.7,1509.4 L576.1,1510.3 L577.5,1512.6 L578.9,1514.2 L580.2,1515.1 L581.6,1515.8 L583.0,1516.8 L584.4,1516.5 L585.8,1516.5 L587.2,1516.8 L588.5,1516.8 L589.9,1517.5 L591.3,1517.7 L592.7,1516.7 L594.1,1516.8 L595.4,1517.8 L596.8,1517.2 L598.2,1517.3 L599.6,1517.2 L601.0,1517.3 L602.3,1517.6 L603.7,1517.4 L605.1,1517.4 L606.5,1517.5 L607.9,1518.1 L609.2,1518.5 L610.6,1517.8 L612.0,1518.1 L613.4,1517.5 L614.8,1517.3 L616.2,1517.5 L617.5,1517.6 L618.9,1517.6 L620.3,1517.6" fill="none" stroke="#a09a18" stroke-width="8.4" stroke-linejoin="round" stroke-linecap="butt"/>
<path d="M633.7,1517.9 L634.7,1517.9 L635.6,1517.9 L636.6,1517.8 L637.6,1517.4 L638.5,1518.1 L639.5,1517.6 L640.4,1518.2 L641.4,1518.1 L642.4,1518.2 L643.3,1517.7 L644.3,1518.2 L645.2,1517.8 L646.2,1518.2 L647.2,1517.5 L648.1,1517.2 L649.1,1517.8 L650.0,1517.3 L651.0,1517.7 L652.0,1517.1 L652.9,1517.8 L653.9,1518.4 L654.8,1517.4 L655.8,1517.9 L656.8,1518.2 L657.7,1518.1 L658.7,1518.4 L659.6,1517.9 L660.6,1518.2 L661.6,1517.3 L662.5,1517.6 L663.5,1518.4 L664.5,1518.3 L665.4,1518.0 L666.4,1518.5 L667.3,1517.9 L668.3,1517.8 L669.3,1518.1 L670.2,1518.0 L671.2,1517.6 L672.1,1517.3 L673.1,1517.3 L674.1,1517.8 L675.0,1517.5 L676.0,1518.0 L676.9,1517.6 L677.9,1518.1 L678.9,1517.5 L679.8,1518.2 L680.8,1518.1 L681.7,1517.8 L682.7,1517.6 L683.7,1518.2 L684.6,1517.9 L685.6,1517.7 L686.5,1517.6 L687.5,1518.0 L688.5,1517.6 L689.4,1517.7 L690.4,1517.1 L691.3,1517.4 L692.3,1518.0 L693.3,1518.2 L694.2,1517.3 L695.2,1516.8 L696.2,1517.0 L697.1,1516.6 L698.1,1516.8 L699.0,1516.8 L700.0,1515.7 L701.0,1515.6 L701.9,1515.0 L702.9,1515.2 L703.8,1514.3 L704.8,1514.2 L705.8,1513.4 L706.7,1513.7 L707.7,1513.7 L708.6,1513.8 L709.6,1513.4 L710.6,1514.2 L711.5,1514.9 L712.5,1515.3 L713.4,1515.8 L714.4,1515.3 L715.4,1516.8 L716.3,1516.7 L717.3,1516.5 L718.2,1516.5 L719.2,1517.1 L720.2,1516.9 L721.1,1517.0 L722.1,1517.0 L723.1,1517.3 L724.0,1516.8 L725.0,1517.3 L725.9,1516.8 L726.9,1517.7 L727.9,1517.0 L728.8,1517.8 L729.8,1517.8 L730.7,1517.1 L731.7,1517.6 L732.7,1517.1 L733.6,1517.6 L734.6,1516.7 L735.5,1517.2 L736.5,1517.5 L737.5,1517.0 L738.4,1516.7 L739.4,1517.2 L740.3,1516.7 L741.3,1516.2 L742.3,1516.5 L743.2,1516.7 L744.2,1516.8 L745.1,1516.3 L746.1,1516.9 L747.1,1517.3 L748.0,1516.4 L749.0,1516.4 L749.9,1515.2 L750.9,1515.5 L751.9,1515.7 L752.8,1515.4 L753.8,1514.5 L754.8,1514.6 L755.7,1514.0 L756.7,1513.1 L757.6,1512.1 L758.6,1510.8 L759.6,1508.8 L760.5,1505.4 L761.5,1500.8 L762.4,1495.7 L763.4,1485.8 L764.4,1475.8 L765.3,1462.5 L766.3,1449.3 L767.2,1435.8 L768.2,1426.1 L769.2,1422.8 L770.1,1426.7 L771.1,1436.9 L772.0,1450.8 L773.0,1464.4 L774.0,1476.8 L774.9,1487.4 L775.9,1496.0 L776.8,1502.0 L777.8,1506.2 L778.8,1509.4 L779.7,1511.4 L780.7,1511.7 L781.6,1513.3 L782.6,1513.8 L783.6,1514.6 L784.5,1514.3 L785.5,1514.5 L786.5,1515.4 L787.4,1515.4 L788.4,1516.1 L789.3,1515.4 L790.3,1515.8 L791.3,1516.6 L792.2,1516.0 L793.2,1516.4 L794.1,1516.5 L795.1,1516.6 L796.1,1517.0 L797.0,1517.0 L798.0,1516.7 L798.9,1517.0 L799.9,1517.4 L800.9,1516.4 L801.8,1517.2 L802.8,1517.4 L803.7,1517.4 L804.7,1517.0 L805.7,1516.9 L806.6,1517.2 L807.6,1517.0 L808.5,1517.8 L809.5,1517.5 L810.5,1517.5 L811.4,1517.4 L812.4,1517.2 L813.4,1518.1 L814.3,1516.4 L815.3,1517.7 L816.2,1517.3 L817.2,1517.2 L818.2,1517.2 L819.1,1517.4 L820.1,1518.4 L821.0,1517.8 L822.0,1517.1 L823.0,1517.7 L823.9,1517.7 L824.9,1518.1 L825.8,1516.8 L826.8,1516.9 L827.8,1517.3 L828.7,1516.9 L829.7,1516.7 L830.6,1516.9 L831.6,1516.4 L832.6,1516.0 L833.5,1515.6 L834.5,1515.1 L835.4,1515.2 L836.4,1515.1 L837.4,1514.5 L838.3,1514.5 L839.3,1514.5 L840.2,1513.4 L841.2,1513.8 L842.2,1513.5 L843.1,1513.4 L844.1,1514.0 L845.1,1513.6 L846.0,1513.9 L847.0,1514.3 L847.9,1514.5 L848.9,1515.2 L849.9,1516.0 L850.8,1515.6 L851.8,1516.1 L852.7,1515.8 L853.7,1516.3 L854.7,1516.8 L855.6,1516.8 L856.6,1516.5 L857.5,1516.7 L858.5,1517.1 L859.5,1517.2 L860.4,1517.5 L861.4,1517.5 L862.3,1517.4 L863.3,1517.6 L864.3,1517.5 L865.2,1518.0 L866.2,1518.2 L867.1,1518.3 L868.1,1517.9 L869.1,1517.3 L870.0,1517.3 L871.0,1518.1 L871.9,1518.3 L872.9,1517.5 L873.9,1517.6 L874.8,1518.2 L875.8,1517.4 L876.8,1517.7 L877.7,1517.4 L878.7,1517.7 L879.6,1517.5 L880.6,1517.7 L881.6,1518.1 L882.5,1517.9 L883.5,1518.1 L884.4,1517.5 L885.4,1518.2 L886.4,1518.4 L887.3,1517.6 L888.3,1517.5 L889.2,1517.4 L890.2,1517.5 L891.2,1518.4 L892.1,1518.1 L893.1,1518.0 L894.0,1517.9 L895.0,1518.6 L896.0,1517.9 L896.9,1517.8 L897.9,1518.2 L898.8,1517.8 L899.8,1517.5 L900.8,1517.9 L901.7,1517.5 L902.7,1517.5 L903.7,1517.7 L904.6,1517.9 L905.6,1517.9 L906.5,1517.9" fill="none" stroke="#a09a18" stroke-width="8.4" stroke-linejoin="round" stroke-linecap="butt"/>
<text x="236.8" y="1509.0" font-size="41.84" fill="#a09a18">1.26</text>
<path d="M262.6,1397.4 L264.0,1397.4 L265.4,1397.4 L266.7,1397.6 L268.1,1397.3 L269.5,1397.0 L270.9,1397.4 L272.3,1397.3 L273.6,1397.1 L275.0,1397.1 L276.4,1397.9 L277.8,1397.8 L279.2,1396.9 L280.6,1397.2 L281.9,1398.0 L283.3,1397.8 L284.7,1397.3 L286.1,1397.7 L287.5,1397.2 L288.8,1397.3 L290.2,1397.1 L291.6,1397.7 L293.0,1397.1 L294.4,1396.6 L295.7,1397.5 L297.1,1396.8 L298.5,1396.9 L299.9,1397.0 L301.3,1397.3 L302.7,1397.6 L304.0,1397.5 L305.4,1396.9 L306.8,1396.9 L308.2,1396.8 L309.6,1396.8 L310.9,1396.8 L312.3,1397.3 L313.7,1397.5 L315.1,1397.0 L316.5,1396.9 L317.8,1397.0 L319.2,1397.5 L320.6,1397.2 L322.0,1397.5 L323.4,1396.9 L324.7,1397.3 L326.1,1397.0 L327.5,1396.8 L328.9,1396.8 L330.3,1396.3 L331.7,1397.1 L333.0,1397.5 L334.4,1396.4 L335.8,1396.2 L337.2,1396.1 L338.6,1396.4 L339.9,1396.3 L341.3,1396.4 L342.7,1396.8 L344.1,1396.5 L345.5,1396.0 L346.8,1396.3 L348.2,1395.4 L349.6,1396.4 L351.0,1395.9 L352.4,1395.3 L353.8,1395.7 L355.1,1395.7 L356.5,1395.6 L357.9,1395.2 L359.3,1394.2 L360.7,1394.3 L362.0,1394.0 L363.4,1394.0 L364.8,1393.1 L366.2,1392.8 L367.6,1392.5 L368.9,1391.4 L370.3,1390.0 L371.7,1387.9 L373.1,1385.9 L374.5,1382.2 L375.8,1376.9 L377.2,1371.3 L378.6,1362.9 L380.0,1351.6 L381.4,1339.2 L382.8,1325.2 L384.1,1310.4 L385.5,1296.7 L386.9,1285.3 L388.3,1279.3 L389.7,1279.0 L391.0,1286.0 L392.4,1297.0 L393.8,1310.6 L395.2,1325.5 L396.6,1339.2 L397.9,1352.0 L399.3,1362.8 L400.7,1371.0 L402.1,1377.8 L403.5,1382.9 L404.8,1386.3 L406.2,1388.6 L407.6,1390.2 L409.0,1391.2 L410.4,1391.8 L411.8,1392.6 L413.1,1392.7 L414.5,1393.3 L415.9,1394.2 L417.3,1393.9 L418.7,1394.3 L420.0,1395.1 L421.4,1395.0 L422.8,1394.9 L424.2,1395.4 L425.6,1395.3 L426.9,1395.6 L428.3,1395.6 L429.7,1396.1 L431.1,1395.9 L432.5,1396.3 L433.9,1396.0 L435.2,1396.9 L436.6,1396.2 L438.0,1396.0 L439.4,1396.3 L440.8,1396.5 L442.1,1396.4 L443.5,1396.9 L444.9,1396.9 L446.3,1396.8 L447.7,1396.8 L449.0,1396.4 L450.4,1397.1 L451.8,1396.5 L453.2,1397.4 L454.6,1397.1 L455.9,1396.9 L457.3,1396.5 L458.7,1397.1 L460.1,1397.7 L461.5,1396.8 L462.9,1397.0 L464.2,1397.3 L465.6,1397.3 L467.0,1397.2 L468.4,1397.0 L469.8,1396.8 L471.1,1397.5 L472.5,1396.3 L473.9,1397.0 L475.3,1397.2 L476.7,1396.8 L478.0,1397.0 L479.4,1396.3 L480.8,1396.7 L482.2,1397.2 L483.6,1397.2 L485.0,1397.2 L486.3,1397.2 L487.7,1396.8 L489.1,1397.2 L490.5,1396.5 L491.9,1397.0 L493.2,1397.1 L494.6,1396.7 L496.0,1397.6 L497.4,1397.3 L498.8,1396.7 L500.1,1396.9 L501.5,1396.9 L502.9,1396.7 L504.3,1397.0 L505.7,1396.8 L507.0,1397.1 L508.4,1397.1 L509.8,1395.9 L511.2,1396.4 L512.6,1396.1 L514.0,1395.0 L515.3,1394.7 L516.7,1394.8 L518.1,1394.3 L519.5,1393.5 L520.9,1393.2 L522.2,1392.1 L523.6,1391.7 L525.0,1391.1 L526.4,1390.4 L527.8,1390.1 L529.1,1389.4 L530.5,1389.2 L531.9,1390.0 L533.3,1388.7 L534.7,1388.7 L536.1,1387.5 L537.4,1384.5 L538.8,1381.0 L540.2,1374.8 L541.6,1365.7 L543.0,1355.3 L544.3,1343.1 L545.7,1331.5 L547.1,1324.9 L548.5,1326.9 L549.9,1336.5 L551.2,1348.5 L552.6,1360.6 L554.0,1370.4 L555.4,1378.8 L556.8,1384.4 L558.1,1387.8 L559.5,1390.3 L560.9,1391.1 L562.3,1391.3 L563.7,1391.5 L565.1,1390.5 L566.4,1389.4 L567.8,1388.9 L569.2,1387.4 L570.6,1386.8 L572.0,1386.6 L573.3,1387.6 L574.7,1388.2 L576.1,1389.0 L577.5,1390.7 L578.9,1392.6 L580.2,1393.6 L581.6,1394.2 L583.0,1395.5 L584.4,1396.0 L585.8,1395.6 L587.2,1396.7 L588.5,1396.9 L589.9,1397.3 L591.3,1397.2 L592.7,1396.5 L594.1,1397.1 L595.4,1397.5 L596.8,1397.4 L598.2,1397.1 L599.6,1396.9 L601.0,1397.4 L602.3,1397.0 L603.7,1397.4 L605.1,1397.1 L606.5,1397.1 L607.9,1397.1 L609.2,1397.4 L610.6,1397.3 L612.0,1397.1 L613.4,1397.7 L614.8,1397.3 L616.2,1397.2 L617.5,1397.3 L618.9,1397.3 L620.3,1397.4" fill="none" stroke="#ff8000" stroke-width="8.4" stroke-linejoin="round" stroke-linecap="butt"/>
<path d="M633.7,1397.5 L634.7,1397.5 L635.6,1397.5 L636.6,1397.4 L637.6,1397.4 L638.5,1397.9 L639.5,1397.6 L640.4,1398.2 L641.4,1397.2 L642.4,1397.7 L643.3,1397.4 L644.3,1397.9 L645.2,1397.5 L646.2,1397.4 L647.2,1397.2 L648.1,1398.0 L649.1,1397.2 L650.0,1397.6 L651.0,1397.8 L652.0,1397.3 L652.9,1397.6 L653.9,1397.6 L654.8,1397.7 L655.8,1397.4 L656.8,1397.5 L657.7,1397.6 L658.7,1397.8 L659.6,1397.7 L660.6,1397.4 L661.6,1397.1 L662.5,1397.5 L663.5,1397.0 L664.5,1397.5 L665.4,1397.9 L666.4,1397.3 L667.3,1397.8 L668.3,1397.3 L669.3,1397.1 L670.2,1397.6 L671.2,1397.5 L672.1,1396.6 L673.1,1397.4 L674.1,1397.4 L675.0,1397.2 L676.0,1397.5 L676.9,1397.5 L677.9,1397.3 L678.9,1398.2 L679.8,1396.9 L680.8,1397.8 L681.7,1397.8 L682.7,1397.2 L683.7,1397.4 L684.6,1397.8 L685.6,1397.3 L686.5,1397.7 L687.5,1397.6 L688.5,1397.8 L689.4,1397.6 L690.4,1397.1 L691.3,1397.2 L692.3,1397.1 L693.3,1396.8 L694.2,1397.0 L695.2,1397.1 L696.2,1396.8 L697.1,1396.0 L698.1,1396.3 L699.0,1395.9 L700.0,1395.7 L701.0,1395.2 L701.9,1394.7 L702.9,1394.4 L703.8,1394.1 L704.8,1393.9 L705.8,1393.6 L706.7,1393.1 L707.7,1392.9 L708.6,1393.0 L709.6,1393.5 L710.6,1394.1 L711.5,1394.0 L712.5,1394.4 L713.4,1395.6 L714.4,1395.2 L715.4,1395.6 L716.3,1395.5 L717.3,1396.7 L718.2,1397.0 L719.2,1396.4 L720.2,1397.4 L721.1,1397.1 L722.1,1397.3 L723.1,1397.3 L724.0,1397.6 L725.0,1397.1 L725.9,1396.7 L726.9,1396.9 L727.9,1396.9 L728.8,1397.1 L729.8,1396.5 L730.7,1396.8 L731.7,1396.6 L732.7,1397.4 L733.6,1396.8 L734.6,1397.2 L735.5,1396.7 L736.5,1396.7 L737.5,1397.1 L738.4,1396.6 L739.4,1396.3 L740.3,1396.4 L741.3,1396.3 L742.3,1396.8 L743.2,1396.6 L744.2,1396.7 L745.1,1396.2 L746.1,1395.7 L747.1,1395.9 L748.0,1395.9 L749.0,1396.1 L749.9,1395.4 L750.9,1395.5 L751.9,1395.8 L752.8,1395.5 L753.8,1394.8 L754.8,1394.6 L755.7,1393.3 L756.7,1393.3 L757.6,1393.0 L758.6,1391.8 L759.6,1389.8 L760.5,1388.6 L761.5,1385.0 L762.4,1380.8 L763.4,1374.4 L764.4,1366.5 L765.3,1356.5 L766.3,1344.0 L767.2,1330.9 L768.2,1317.9 L769.2,1308.3 L770.1,1303.1 L771.1,1306.2 L772.0,1314.6 L773.0,1327.2 L774.0,1340.2 L774.9,1352.9 L775.9,1363.8 L776.8,1372.3 L777.8,1379.5 L778.8,1384.4 L779.7,1387.1 L780.7,1389.9 L781.6,1391.5 L782.6,1392.0 L783.6,1392.9 L784.5,1394.6 L785.5,1394.3 L786.5,1394.3 L787.4,1394.5 L788.4,1395.3 L789.3,1394.8 L790.3,1395.8 L791.3,1395.8 L792.2,1395.8 L793.2,1396.0 L794.1,1395.8 L795.1,1395.8 L796.1,1396.3 L797.0,1395.9 L798.0,1396.6 L798.9,1396.6 L799.9,1396.0 L800.9,1396.6 L801.8,1396.3 L802.8,1396.8 L803.7,1396.8 L804.7,1396.8 L805.7,1396.7 L806.6,1396.9 L807.6,1396.8 L808.5,1396.6 L809.5,1396.5 L810.5,1396.8 L811.4,1396.7 L812.4,1396.6 L813.4,1397.3 L814.3,1397.4 L815.3,1396.3 L816.2,1396.4 L817.2,1396.8 L818.2,1396.7 L819.1,1397.1 L820.1,1397.2 L821.0,1396.5 L822.0,1397.1 L823.0,1396.2 L823.9,1396.6 L824.9,1396.1 L825.8,1395.4 L826.8,1395.3 L827.8,1395.8 L828.7,1395.2 L829.7,1395.7 L830.6,1395.3 L831.6,1394.7 L832.6,1394.1 L833.5,1394.5 L834.5,1393.9 L835.4,1393.8 L836.4,1394.0 L837.4,1393.4 L838.3,1392.6 L839.3,1392.9 L840.2,1392.6 L841.2,1392.4 L842.2,1392.9 L843.1,1392.2 L844.1,1392.2 L845.1,1392.2 L846.0,1392.5 L847.0,1393.3 L847.9,1393.5 L848.9,1393.8 L849.9,1394.1 L850.8,1394.4 L851.8,1394.0 L852.7,1394.1 L853.7,1395.1 L854.7,1394.9 L855.6,1395.8 L856.6,1395.7 L857.5,1396.2 L858.5,1396.6 L859.5,1396.2 L860.4,1396.4 L861.4,1396.7 L862.3,1396.8 L863.3,1397.1 L864.3,1396.9 L865.2,1397.2 L866.2,1396.9 L867.1,1397.5 L868.1,1397.1 L869.1,1397.0 L870.0,1396.8 L871.0,1396.9 L871.9,1397.2 L872.9,1397.5 L873.9,1397.9 L874.8,1397.3 L875.8,1396.9 L876.8,1396.8 L877.7,1398.2 L878.7,1397.6 L879.6,1397.5 L880.6,1397.7 L881.6,1397.3 L882.5,1397.4 L883.5,1397.6 L884.4,1397.4 L885.4,1398.0 L886.4,1397.8 L887.3,1397.7 L888.3,1397.1 L889.2,1398.0 L890.2,1397.5 L891.2,1397.2 L892.1,1397.5 L893.1,1397.2 L894.0,1397.7 L895.0,1397.3 L896.0,1397.2 L896.9,1396.7 L897.9,1397.2 L898.8,1397.0 L899.8,1397.5 L900.8,1397.5 L901.7,1397.0 L902.7,1397.3 L903.7,1397.0 L904.6,1397.5 L905.6,1397.5 L906.5,1397.5" fill="none" stroke="#ff8000" stroke-width="8.4" stroke-linejoin="round" stroke-linecap="butt"/>
<text x="236.8" y="1387.5" font-size="41.95" fill="#ff8000">1.27</text>
<path d="M262.6,1277.0 L264.0,1277.0 L265.4,1277.0 L266.7,1276.8 L268.1,1277.0 L269.5,1276.8 L270.9,1277.4 L272.3,1277.2 L273.6,1277.2 L275.0,1276.9 L276.4,1276.7 L277.8,1276.7 L279.2,1276.8 L280.6,1277.1 L281.9,1277.5 L283.3,1276.8 L284.7,1276.9 L286.1,1276.8 L287.5,1276.4 L288.8,1276.9 L290.2,1276.9 L291.6,1277.6 L293.0,1276.7 L294.4,1276.9 L295.7,1277.1 L297.1,1276.7 L298.5,1277.2 L299.9,1277.0 L301.3,1276.1 L302.7,1276.5 L304.0,1276.4 L305.4,1276.5 L306.8,1276.5 L308.2,1276.6 L309.6,1275.9 L310.9,1276.7 L312.3,1276.4 L313.7,1276.7 L315.1,1276.7 L316.5,1277.4 L317.8,1277.2 L319.2,1276.0 L320.6,1276.0 L322.0,1276.6 L323.4,1276.5 L324.7,1276.2 L326.1,1276.7 L327.5,1275.7 L328.9,1276.7 L330.3,1276.5 L331.7,1277.1 L333.0,1275.7 L334.4,1276.1 L335.8,1275.5 L337.2,1276.3 L338.6,1275.8 L339.9,1275.8 L341.3,1275.7 L342.7,1275.0 L344.1,1274.8 L345.5,1275.0 L346.8,1275.5 L348.2,1274.9 L349.6,1274.7 L351.0,1274.8 L352.4,1274.6 L353.8,1274.4 L355.1,1274.7 L356.5,1274.1 L357.9,1273.3 L359.3,1273.9 L360.7,1273.2 L362.0,1272.5 L363.4,1272.8 L364.8,1271.8 L366.2,1271.5 L367.6,1270.2 L368.9,1269.1 L370.3,1267.2 L371.7,1264.5 L373.1,1261.1 L374.5,1256.4 L375.8,1251.0 L377.2,1241.7 L378.6,1232.6 L380.0,1221.2 L381.4,1207.9 L382.8,1193.6 L384.1,1180.4 L385.5,1168.5 L386.9,1160.6 L388.3,1157.9 L389.7,1162.1 L391.0,1170.6 L392.4,1183.0 L393.8,1197.0 L395.2,1210.4 L396.6,1223.7 L397.9,1235.3 L399.3,1244.1 L400.7,1251.7 L402.1,1257.5 L403.5,1261.8 L404.8,1264.2 L406.2,1267.2 L407.6,1268.8 L409.0,1270.3 L410.4,1270.7 L411.8,1271.8 L413.1,1272.7 L414.5,1273.3 L415.9,1273.1 L417.3,1273.3 L418.7,1274.4 L420.0,1274.4 L421.4,1274.2 L422.8,1274.2 L424.2,1275.2 L425.6,1275.1 L426.9,1274.8 L428.3,1275.4 L429.7,1275.5 L431.1,1275.6 L432.5,1276.0 L433.9,1275.6 L435.2,1275.6 L436.6,1276.3 L438.0,1275.8 L439.4,1275.5 L440.8,1275.9 L442.1,1275.7 L443.5,1276.3 L444.9,1275.7 L446.3,1276.4 L447.7,1275.6 L449.0,1276.4 L450.4,1276.5 L451.8,1276.6 L453.2,1276.5 L454.6,1276.5 L455.9,1276.6 L457.3,1276.5 L458.7,1276.2 L460.1,1276.1 L461.5,1276.6 L462.9,1276.1 L464.2,1276.8 L465.6,1276.8 L467.0,1276.9 L468.4,1276.3 L469.8,1277.1 L471.1,1277.0 L472.5,1276.1 L473.9,1276.0 L475.3,1276.1 L476.7,1277.1 L478.0,1276.6 L479.4,1276.3 L480.8,1276.5 L482.2,1277.1 L483.6,1276.7 L485.0,1277.1 L486.3,1277.0 L487.7,1275.8 L489.1,1276.3 L490.5,1277.0 L491.9,1277.0 L493.2,1276.3 L494.6,1276.7 L496.0,1276.3 L497.4,1276.7 L498.8,1276.5 L500.1,1276.3 L501.5,1276.7 L502.9,1277.0 L504.3,1276.7 L505.7,1276.5 L507.0,1276.3 L508.4,1276.2 L509.8,1276.1 L511.2,1275.9 L512.6,1276.3 L514.0,1275.4 L515.3,1275.1 L516.7,1275.6 L518.1,1275.5 L519.5,1275.0 L520.9,1275.0 L522.2,1275.0 L523.6,1274.9 L525.0,1274.8 L526.4,1274.6 L527.8,1273.5 L529.1,1272.8 L530.5,1272.8 L531.9,1271.5 L533.3,1270.1 L534.7,1268.7 L536.1,1266.8 L537.4,1264.3 L538.8,1262.0 L540.2,1258.2 L541.6,1254.8 L543.0,1250.4 L544.3,1247.6 L545.7,1245.5 L547.1,1244.1 L548.5,1243.7 L549.9,1245.4 L551.2,1248.6 L552.6,1252.0 L554.0,1255.7 L555.4,1258.4 L556.8,1261.0 L558.1,1263.2 L559.5,1263.7 L560.9,1265.7 L562.3,1265.2 L563.7,1264.8 L565.1,1264.4 L566.4,1263.6 L567.8,1264.4 L569.2,1264.4 L570.6,1264.8 L572.0,1265.8 L573.3,1267.3 L574.7,1269.0 L576.1,1270.0 L577.5,1272.1 L578.9,1273.2 L580.2,1273.6 L581.6,1274.2 L583.0,1275.1 L584.4,1276.0 L585.8,1276.3 L587.2,1276.5 L588.5,1276.7 L589.9,1276.5 L591.3,1276.0 L592.7,1276.4 L594.1,1276.8 L595.4,1276.8 L596.8,1277.0 L598.2,1276.2 L599.6,1277.3 L601.0,1276.6 L602.3,1277.2 L603.7,1277.1 L605.1,1277.3 L606.5,1276.5 L607.9,1276.8 L609.2,1275.9 L610.6,1277.2 L612.0,1277.2 L613.4,1276.7 L614.8,1276.7 L616.2,1277.0 L617.5,1276.9 L618.9,1276.9 L620.3,1276.9" fill="none" stroke="#ff0000" stroke-width="8.4" stroke-linejoin="round" stroke-linecap="butt"/>
<path d="M633.7,1277.2 L634.7,1277.2 L635.6,1277.2 L636.6,1277.4 L637.6,1277.2 L638.5,1277.3 L639.5,1276.8 L640.4,1277.4 L641.4,1277.3 L642.4,1276.8 L643.3,1277.1 L644.3,1277.2 L645.2,1277.3 L646.2,1276.9 L647.2,1277.4 L648.1,1277.0 L649.1,1276.5 L650.0,1277.1 L651.0,1277.5 L652.0,1277.6 L652.9,1277.1 L653.9,1277.6 L654.8,1277.7 L655.8,1277.5 L656.8,1277.6 L657.7,1276.9 L658.7,1277.7 L659.6,1276.7 L660.6,1277.4 L661.6,1277.1 L662.5,1277.0 L663.5,1277.1 L664.5,1276.9 L665.4,1277.5 L666.4,1277.9 L667.3,1277.2 L668.3,1277.7 L669.3,1277.4 L670.2,1276.9 L671.2,1277.2 L672.1,1277.4 L673.1,1277.6 L674.1,1277.3 L675.0,1277.2 L676.0,1277.7 L676.9,1277.1 L677.9,1277.5 L678.9,1277.1 L679.8,1277.3 L680.8,1276.8 L681.7,1276.8 L682.7,1277.1 L683.7,1277.2 L684.6,1277.0 L685.6,1276.6 L686.5,1276.7 L687.5,1277.0 L688.5,1276.9 L689.4,1276.5 L690.4,1277.5 L691.3,1276.8 L692.3,1277.2 L693.3,1276.4 L694.2,1276.9 L695.2,1276.7 L696.2,1277.0 L697.1,1276.5 L698.1,1276.1 L699.0,1275.7 L700.0,1276.6 L701.0,1276.2 L701.9,1274.7 L702.9,1275.6 L703.8,1275.8 L704.8,1275.5 L705.8,1276.6 L706.7,1275.1 L707.7,1275.6 L708.6,1276.2 L709.6,1275.4 L710.6,1276.0 L711.5,1276.3 L712.5,1275.8 L713.4,1276.0 L714.4,1276.4 L715.4,1276.3 L716.3,1276.9 L717.3,1277.0 L718.2,1276.3 L719.2,1276.2 L720.2,1276.5 L721.1,1276.6 L722.1,1276.9 L723.1,1276.8 L724.0,1277.1 L725.0,1276.2 L725.9,1277.0 L726.9,1276.7 L727.9,1276.8 L728.8,1277.3 L729.8,1276.2 L730.7,1276.9 L731.7,1277.1 L732.7,1276.8 L733.6,1277.1 L734.6,1276.7 L735.5,1277.1 L736.5,1276.5 L737.5,1276.7 L738.4,1277.1 L739.4,1276.3 L740.3,1276.5 L741.3,1276.9 L742.3,1276.4 L743.2,1276.3 L744.2,1275.8 L745.1,1276.6 L746.1,1276.0 L747.1,1276.2 L748.0,1275.9 L749.0,1276.1 L749.9,1275.9 L750.9,1275.6 L751.9,1276.0 L752.8,1276.1 L753.8,1275.1 L754.8,1274.9 L755.7,1274.3 L756.7,1273.5 L757.6,1273.0 L758.6,1271.5 L759.6,1270.6 L760.5,1268.9 L761.5,1266.7 L762.4,1264.5 L763.4,1262.1 L764.4,1259.2 L765.3,1256.5 L766.3,1253.6 L767.2,1251.0 L768.2,1249.2 L769.2,1249.0 L770.1,1249.3 L771.1,1250.6 L772.0,1253.0 L773.0,1256.5 L774.0,1259.1 L774.9,1262.1 L775.9,1264.7 L776.8,1266.9 L777.8,1269.0 L778.8,1270.5 L779.7,1271.9 L780.7,1273.1 L781.6,1273.7 L782.6,1274.2 L783.6,1274.4 L784.5,1275.0 L785.5,1275.1 L786.5,1275.1 L787.4,1276.0 L788.4,1275.9 L789.3,1275.8 L790.3,1276.1 L791.3,1276.5 L792.2,1275.9 L793.2,1276.3 L794.1,1276.7 L795.1,1275.8 L796.1,1276.9 L797.0,1276.5 L798.0,1276.7 L798.9,1276.5 L799.9,1276.4 L800.9,1276.9 L801.8,1276.7 L802.8,1276.7 L803.7,1277.0 L804.7,1276.3 L805.7,1276.6 L806.6,1276.8 L807.6,1276.9 L808.5,1276.8 L809.5,1276.7 L810.5,1276.9 L811.4,1276.3 L812.4,1277.5 L813.4,1277.4 L814.3,1276.7 L815.3,1277.2 L816.2,1276.4 L817.2,1276.1 L818.2,1274.9 L819.1,1274.1 L820.1,1273.5 L821.0,1274.0 L822.0,1274.6 L823.0,1275.4 L823.9,1275.5 L824.9,1275.6 L825.8,1275.9 L826.8,1275.9 L827.8,1275.8 L828.7,1275.0 L829.7,1275.8 L830.6,1274.7 L831.6,1274.8 L832.6,1274.0 L833.5,1274.0 L834.5,1274.1 L835.4,1273.6 L836.4,1274.1 L837.4,1273.0 L838.3,1272.8 L839.3,1273.4 L840.2,1272.3 L841.2,1272.5 L842.2,1272.3 L843.1,1272.8 L844.1,1272.1 L845.1,1272.2 L846.0,1272.4 L847.0,1272.9 L847.9,1272.4 L848.9,1272.4 L849.9,1272.9 L850.8,1272.9 L851.8,1273.7 L852.7,1273.7 L853.7,1273.8 L854.7,1274.2 L855.6,1273.5 L856.6,1274.5 L857.5,1275.1 L858.5,1274.8 L859.5,1275.7 L860.4,1275.4 L861.4,1275.4 L862.3,1276.0 L863.3,1276.1 L864.3,1276.4 L865.2,1276.2 L866.2,1276.6 L867.1,1275.9 L868.1,1276.3 L869.1,1276.7 L870.0,1277.1 L871.0,1276.0 L871.9,1276.3 L872.9,1276.7 L873.9,1276.8 L874.8,1276.8 L875.8,1277.1 L876.8,1276.3 L877.7,1276.9 L878.7,1277.5 L879.6,1277.2 L880.6,1277.9 L881.6,1276.8 L882.5,1276.8 L883.5,1276.4 L884.4,1276.3 L885.4,1277.3 L886.4,1276.9 L887.3,1276.7 L888.3,1276.8 L889.2,1277.2 L890.2,1276.8 L891.2,1276.9 L892.1,1276.6 L893.1,1277.1 L894.0,1277.2 L895.0,1277.3 L896.0,1277.2 L896.9,1277.4 L897.9,1277.2 L898.8,1276.9 L899.8,1277.0 L900.8,1276.7 L901.7,1276.7 L902.7,1276.9 L903.7,1277.5 L904.6,1277.2 L905.6,1277.2 L906.5,1277.2" fill="none" stroke="#ff0000" stroke-width="8.4" stroke-linejoin="round" stroke-linecap="butt"/>
<text x="238.7" y="1268.7" font-size="40.95" fill="#ff0000">4.12</text>
<path d="M262.6,1156.2 L264.0,1156.2 L265.4,1156.2 L266.7,1156.2 L268.1,1156.4 L269.5,1156.0 L270.9,1156.5 L272.3,1156.1 L273.6,1156.2 L275.0,1156.4 L276.4,1155.7 L277.8,1156.0 L279.2,1155.8 L280.6,1156.1 L281.9,1155.7 L283.3,1155.7 L284.7,1155.9 L286.1,1156.4 L287.5,1155.5 L288.8,1155.6 L290.2,1155.7 L291.6,1155.6 L293.0,1155.7 L294.4,1155.6 L295.7,1156.0 L297.1,1155.6 L298.5,1155.4 L299.9,1155.7 L301.3,1155.8 L302.7,1154.8 L304.0,1155.2 L305.4,1155.4 L306.8,1155.4 L308.2,1156.1 L309.6,1155.6 L310.9,1155.2 L312.3,1154.6 L313.7,1155.6 L315.1,1155.1 L316.5,1154.2 L317.8,1154.5 L319.2,1154.5 L320.6,1154.1 L322.0,1154.5 L323.4,1154.4 L324.7,1154.0 L326.1,1153.8 L327.5,1154.3 L328.9,1153.3 L330.3,1154.3 L331.7,1153.8 L333.0,1152.3 L334.4,1153.4 L335.8,1152.8 L337.2,1153.1 L338.6,1152.7 L339.9,1152.5 L341.3,1152.2 L342.7,1151.5 L344.1,1150.8 L345.5,1150.7 L346.8,1150.1 L348.2,1150.4 L349.6,1149.2 L351.0,1149.0 L352.4,1148.1 L353.8,1148.0 L355.1,1147.1 L356.5,1145.6 L357.9,1144.7 L359.3,1143.6 L360.7,1142.3 L362.0,1140.2 L363.4,1137.7 L364.8,1134.8 L366.2,1131.9 L367.6,1127.8 L368.9,1122.8 L370.3,1117.7 L371.7,1110.5 L373.1,1103.4 L374.5,1095.0 L375.8,1086.6 L377.2,1076.6 L378.6,1066.4 L380.0,1056.6 L381.4,1048.3 L382.8,1041.4 L384.1,1038.0 L385.5,1038.1 L386.9,1042.2 L388.3,1047.5 L389.7,1056.6 L391.0,1066.0 L392.4,1076.4 L393.8,1085.9 L395.2,1094.9 L396.6,1103.4 L397.9,1110.6 L399.3,1117.4 L400.7,1122.3 L402.1,1128.4 L403.5,1131.9 L404.8,1134.7 L406.2,1137.9 L407.6,1140.3 L409.0,1142.6 L410.4,1143.2 L411.8,1145.5 L413.1,1145.8 L414.5,1146.9 L415.9,1147.4 L417.3,1147.9 L418.7,1149.3 L420.0,1149.9 L421.4,1150.2 L422.8,1151.1 L424.2,1150.6 L425.6,1151.4 L426.9,1151.5 L428.3,1152.2 L429.7,1152.1 L431.1,1152.6 L432.5,1152.6 L433.9,1153.2 L435.2,1152.6 L436.6,1153.4 L438.0,1154.2 L439.4,1153.2 L440.8,1153.7 L442.1,1154.0 L443.5,1153.0 L444.9,1154.0 L446.3,1154.5 L447.7,1154.3 L449.0,1154.1 L450.4,1154.4 L451.8,1153.9 L453.2,1154.1 L454.6,1154.8 L455.9,1154.5 L457.3,1154.4 L458.7,1154.8 L460.1,1154.8 L461.5,1154.4 L462.9,1154.6 L464.2,1155.3 L465.6,1155.0 L467.0,1155.0 L468.4,1154.9 L469.8,1155.1 L471.1,1154.5 L472.5,1155.2 L473.9,1155.3 L475.3,1154.9 L476.7,1155.7 L478.0,1155.3 L479.4,1154.7 L480.8,1155.4 L482.2,1155.2 L483.6,1154.5 L485.0,1154.7 L486.3,1154.8 L487.7,1154.7 L489.1,1155.0 L490.5,1154.6 L491.9,1154.8 L493.2,1153.8 L494.6,1154.4 L496.0,1154.6 L497.4,1154.5 L498.8,1154.4 L500.1,1154.8 L501.5,1154.5 L502.9,1153.6 L504.3,1154.4 L505.7,1154.0 L507.0,1153.3 L508.4,1153.0 L509.8,1153.7 L511.2,1152.7 L512.6,1153.0 L514.0,1152.1 L515.3,1152.2 L516.7,1152.2 L518.1,1151.5 L519.5,1151.1 L520.9,1151.1 L522.2,1149.6 L523.6,1149.8 L525.0,1148.7 L526.4,1148.4 L527.8,1148.0 L529.1,1146.7 L530.5,1145.2 L531.9,1143.6 L533.3,1141.7 L534.7,1140.6 L536.1,1138.8 L537.4,1137.0 L538.8,1134.5 L540.2,1132.2 L541.6,1131.0 L543.0,1128.1 L544.3,1127.1 L545.7,1126.3 L547.1,1127.6 L548.5,1127.9 L549.9,1128.9 L551.2,1130.7 L552.6,1132.1 L554.0,1133.8 L555.4,1134.8 L556.8,1136.1 L558.1,1136.6 L559.5,1137.4 L560.9,1137.4 L562.3,1136.0 L563.7,1135.0 L565.1,1134.1 L566.4,1133.6 L567.8,1134.8 L569.2,1135.8 L570.6,1138.7 L572.0,1141.2 L573.3,1144.2 L574.7,1147.5 L576.1,1150.1 L577.5,1152.8 L578.9,1154.1 L580.2,1155.0 L581.6,1156.1 L583.0,1156.4 L584.4,1155.6 L585.8,1156.4 L587.2,1156.9 L588.5,1157.0 L589.9,1156.2 L591.3,1157.6 L592.7,1156.8 L594.1,1156.5 L595.4,1156.9 L596.8,1156.5 L598.2,1157.1 L599.6,1156.7 L601.0,1156.7 L602.3,1156.7 L603.7,1156.7 L605.1,1156.7 L606.5,1156.4 L607.9,1156.8 L609.2,1156.9 L610.6,1156.8 L612.0,1156.8 L613.4,1157.3 L614.8,1157.4 L616.2,1157.2 L617.5,1156.7 L618.9,1156.7 L620.3,1156.7" fill="none" stroke="#800080" stroke-width="8.4" stroke-linejoin="round" stroke-linecap="butt"/>
<path d="M633.7,1156.8 L634.7,1156.8 L635.6,1156.8 L636.6,1157.1 L637.6,1156.4 L638.5,1157.1 L639.5,1156.4 L640.4,1156.7 L641.4,1156.4 L642.4,1157.1 L643.3,1156.6 L644.3,1157.5 L645.2,1156.9 L646.2,1156.5 L647.2,1156.6 L648.1,1157.5 L649.1,1156.6 L650.0,1156.7 L651.0,1156.9 L652.0,1157.1 L652.9,1157.0 L653.9,1157.0 L654.8,1156.5 L655.8,1156.7 L656.8,1156.5 L657.7,1156.6 L658.7,1157.3 L659.6,1156.8 L660.6,1156.1 L661.6,1157.2 L662.5,1156.8 L663.5,1157.1 L664.5,1157.1 L665.4,1156.8 L666.4,1156.5 L667.3,1156.6 L668.3,1156.7 L669.3,1156.5 L670.2,1157.4 L671.2,1156.6 L672.1,1156.7 L673.1,1156.9 L674.1,1156.8 L675.0,1157.1 L676.0,1156.4 L676.9,1157.1 L677.9,1157.3 L678.9,1156.8 L679.8,1157.0 L680.8,1156.8 L681.7,1156.3 L682.7,1156.9 L683.7,1156.8 L684.6,1156.0 L685.6,1157.3 L686.5,1156.7 L687.5,1156.4 L688.5,1156.3 L689.4,1156.0 L690.4,1157.0 L691.3,1156.6 L692.3,1156.8 L693.3,1156.9 L694.2,1157.0 L695.2,1157.3 L696.2,1156.7 L697.1,1156.5 L698.1,1157.1 L699.0,1156.5 L700.0,1156.9 L701.0,1157.1 L701.9,1157.6 L702.9,1156.4 L703.8,1156.5 L704.8,1156.8 L705.8,1156.9 L706.7,1157.2 L707.7,1156.5 L708.6,1156.7 L709.6,1156.5 L710.6,1156.6 L711.5,1157.2 L712.5,1157.2 L713.4,1156.5 L714.4,1157.2 L715.4,1156.6 L716.3,1156.3 L717.3,1157.1 L718.2,1156.4 L719.2,1156.6 L720.2,1156.4 L721.1,1156.8 L722.1,1156.6 L723.1,1156.4 L724.0,1155.9 L725.0,1156.3 L725.9,1156.3 L726.9,1156.9 L727.9,1156.4 L728.8,1156.7 L729.8,1156.4 L730.7,1156.3 L731.7,1156.0 L732.7,1156.1 L733.6,1156.3 L734.6,1156.3 L735.5,1155.8 L736.5,1156.5 L737.5,1156.2 L738.4,1155.6 L739.4,1156.1 L740.3,1155.7 L741.3,1155.6 L742.3,1155.2 L743.2,1155.3 L744.2,1156.2 L745.1,1155.5 L746.1,1155.2 L747.1,1154.8 L748.0,1154.8 L749.0,1154.0 L749.9,1154.0 L750.9,1154.4 L751.9,1153.9 L752.8,1154.0 L753.8,1152.2 L754.8,1152.3 L755.7,1151.8 L756.7,1151.7 L757.6,1150.7 L758.6,1149.7 L759.6,1149.3 L760.5,1148.6 L761.5,1148.0 L762.4,1146.4 L763.4,1146.6 L764.4,1146.4 L765.3,1145.6 L766.3,1145.2 L767.2,1144.9 L768.2,1144.9 L769.2,1145.3 L770.1,1145.3 L771.1,1145.5 L772.0,1146.6 L773.0,1146.1 L774.0,1146.8 L774.9,1148.7 L775.9,1148.9 L776.8,1149.1 L777.8,1149.7 L778.8,1150.2 L779.7,1152.1 L780.7,1152.4 L781.6,1152.7 L782.6,1152.8 L783.6,1153.8 L784.5,1153.7 L785.5,1154.0 L786.5,1154.2 L787.4,1155.2 L788.4,1154.9 L789.3,1155.1 L790.3,1155.5 L791.3,1155.0 L792.2,1155.7 L793.2,1155.2 L794.1,1156.0 L795.1,1155.3 L796.1,1155.3 L797.0,1156.2 L798.0,1155.9 L798.9,1155.9 L799.9,1156.4 L800.9,1155.8 L801.8,1155.9 L802.8,1156.4 L803.7,1156.1 L804.7,1155.8 L805.7,1156.1 L806.6,1156.3 L807.6,1155.5 L808.5,1156.3 L809.5,1155.8 L810.5,1155.5 L811.4,1155.6 L812.4,1156.4 L813.4,1155.8 L814.3,1155.7 L815.3,1155.6 L816.2,1155.2 L817.2,1155.1 L818.2,1155.2 L819.1,1155.0 L820.1,1154.6 L821.0,1154.3 L822.0,1155.2 L823.0,1153.7 L823.9,1154.4 L824.9,1153.8 L825.8,1154.4 L826.8,1153.8 L827.8,1153.8 L828.7,1152.8 L829.7,1152.7 L830.6,1152.8 L831.6,1152.6 L832.6,1152.2 L833.5,1152.5 L834.5,1152.2 L835.4,1152.1 L836.4,1151.4 L837.4,1151.5 L838.3,1151.9 L839.3,1151.3 L840.2,1151.2 L841.2,1150.9 L842.2,1151.6 L843.1,1151.3 L844.1,1150.8 L845.1,1151.7 L846.0,1151.9 L847.0,1151.8 L847.9,1152.3 L848.9,1152.3 L849.9,1152.7 L850.8,1153.0 L851.8,1152.6 L852.7,1153.3 L853.7,1153.7 L854.7,1153.7 L855.6,1153.9 L856.6,1153.9 L857.5,1153.9 L858.5,1153.8 L859.5,1155.1 L860.4,1154.9 L861.4,1155.6 L862.3,1155.1 L863.3,1155.1 L864.3,1155.7 L865.2,1155.9 L866.2,1156.0 L867.1,1156.3 L868.1,1155.7 L869.1,1155.4 L870.0,1156.5 L871.0,1155.6 L871.9,1156.3 L872.9,1156.8 L873.9,1156.2 L874.8,1156.1 L875.8,1156.3 L876.8,1156.6 L877.7,1155.9 L878.7,1156.6 L879.6,1156.3 L880.6,1156.4 L881.6,1156.9 L882.5,1157.3 L883.5,1157.2 L884.4,1156.8 L885.4,1156.5 L886.4,1157.3 L887.3,1156.9 L888.3,1156.2 L889.2,1157.3 L890.2,1156.6 L891.2,1156.6 L892.1,1156.5 L893.1,1157.2 L894.0,1156.6 L895.0,1157.2 L896.0,1156.3 L896.9,1157.1 L897.9,1156.6 L898.8,1157.0 L899.8,1156.7 L900.8,1157.3 L901.7,1156.7 L902.7,1156.6 L903.7,1156.8 L904.6,1156.8 L905.6,1156.8 L906.5,1156.8" fill="none" stroke="#800080" stroke-width="8.4" stroke-linejoin="round" stroke-linecap="butt"/>
<text x="236.8" y="1145.0" font-size="42.41" fill="#800080">11.4</text>
<path d="M262.6,1035.0 L264.0,1034.9 L265.4,1034.9 L266.7,1035.0 L268.1,1034.9 L269.5,1034.6 L270.9,1034.7 L272.3,1034.5 L273.6,1034.6 L275.0,1034.8 L276.4,1034.6 L277.8,1034.4 L279.2,1035.3 L280.6,1034.0 L281.9,1034.6 L283.3,1034.5 L284.7,1034.2 L286.1,1034.3 L287.5,1034.7 L288.8,1034.2 L290.2,1033.6 L291.6,1033.6 L293.0,1033.5 L294.4,1034.0 L295.7,1033.8 L297.1,1033.3 L298.5,1033.1 L299.9,1033.5 L301.3,1033.7 L302.7,1034.0 L304.0,1032.7 L305.4,1033.6 L306.8,1032.8 L308.2,1032.6 L309.6,1031.6 L310.9,1032.5 L312.3,1032.5 L313.7,1032.2 L315.1,1032.0 L316.5,1031.5 L317.8,1031.6 L319.2,1031.9 L320.6,1032.2 L322.0,1031.2 L323.4,1031.3 L324.7,1030.3 L326.1,1031.0 L327.5,1030.3 L328.9,1030.3 L330.3,1030.1 L331.7,1028.9 L333.0,1029.1 L334.4,1028.8 L335.8,1028.1 L337.2,1028.2 L338.6,1027.6 L339.9,1027.2 L341.3,1025.8 L342.7,1025.8 L344.1,1025.1 L345.5,1024.2 L346.8,1023.9 L348.2,1023.1 L349.6,1022.7 L351.0,1020.9 L352.4,1019.8 L353.8,1018.8 L355.1,1016.8 L356.5,1016.2 L357.9,1013.6 L359.3,1012.2 L360.7,1009.8 L362.0,1006.9 L363.4,1003.5 L364.8,1001.1 L366.2,997.3 L367.6,993.3 L368.9,987.6 L370.3,983.1 L371.7,977.7 L373.1,971.1 L374.5,965.3 L375.8,959.3 L377.2,951.7 L378.6,944.8 L380.0,936.6 L381.4,931.3 L382.8,925.1 L384.1,920.9 L385.5,918.1 L386.9,917.0 L388.3,918.0 L389.7,921.0 L391.0,925.6 L392.4,931.1 L393.8,937.7 L395.2,944.7 L396.6,951.5 L397.9,958.6 L399.3,965.2 L400.7,971.9 L402.1,977.1 L403.5,983.5 L404.8,988.6 L406.2,992.4 L407.6,997.1 L409.0,1000.4 L410.4,1003.4 L411.8,1006.7 L413.1,1009.3 L414.5,1011.2 L415.9,1013.4 L417.3,1015.5 L418.7,1017.3 L420.0,1018.4 L421.4,1020.2 L422.8,1021.0 L424.2,1022.1 L425.6,1022.5 L426.9,1023.1 L428.3,1024.4 L429.7,1025.0 L431.1,1025.8 L432.5,1026.5 L433.9,1026.6 L435.2,1026.7 L436.6,1027.2 L438.0,1027.6 L439.4,1028.2 L440.8,1029.4 L442.1,1028.4 L443.5,1028.6 L444.9,1029.0 L446.3,1029.3 L447.7,1029.4 L449.0,1029.1 L450.4,1030.1 L451.8,1029.8 L453.2,1030.3 L454.6,1030.5 L455.9,1030.9 L457.3,1031.1 L458.7,1031.5 L460.1,1031.0 L461.5,1031.4 L462.9,1031.8 L464.2,1031.8 L465.6,1032.0 L467.0,1031.1 L468.4,1031.8 L469.8,1031.7 L471.1,1032.2 L472.5,1032.2 L473.9,1031.5 L475.3,1032.0 L476.7,1031.8 L478.0,1031.3 L479.4,1031.2 L480.8,1031.7 L482.2,1031.7 L483.6,1031.8 L485.0,1031.9 L486.3,1031.1 L487.7,1032.2 L489.1,1031.7 L490.5,1032.3 L491.9,1032.0 L493.2,1031.3 L494.6,1031.2 L496.0,1031.2 L497.4,1031.3 L498.8,1031.3 L500.1,1031.1 L501.5,1030.8 L502.9,1030.1 L504.3,1029.8 L505.7,1029.9 L507.0,1030.0 L508.4,1029.9 L509.8,1029.2 L511.2,1029.0 L512.6,1029.2 L514.0,1027.7 L515.3,1027.7 L516.7,1027.4 L518.1,1027.0 L519.5,1026.4 L520.9,1025.2 L522.2,1025.1 L523.6,1023.9 L525.0,1022.8 L526.4,1021.4 L527.8,1020.7 L529.1,1019.7 L530.5,1018.5 L531.9,1016.6 L533.3,1014.9 L534.7,1013.6 L536.1,1011.3 L537.4,1009.5 L538.8,1007.9 L540.2,1005.4 L541.6,1002.6 L543.0,1000.2 L544.3,998.5 L545.7,997.1 L547.1,996.0 L548.5,994.8 L549.9,994.6 L551.2,995.5 L552.6,995.2 L554.0,996.5 L555.4,996.9 L556.8,998.0 L558.1,999.0 L559.5,999.7 L560.9,1000.4 L562.3,1001.2 L563.7,1001.0 L565.1,999.8 L566.4,999.5 L567.8,1000.0 L569.2,1000.5 L570.6,1000.6 L572.0,1002.3 L573.3,1005.8 L574.7,1009.9 L576.1,1013.8 L577.5,1019.0 L578.9,1022.2 L580.2,1024.8 L581.6,1027.6 L583.0,1030.8 L584.4,1031.3 L585.8,1032.7 L587.2,1033.4 L588.5,1034.3 L589.9,1034.7 L591.3,1035.4 L592.7,1035.2 L594.1,1035.1 L595.4,1035.9 L596.8,1035.6 L598.2,1036.0 L599.6,1035.5 L601.0,1035.6 L602.3,1036.8 L603.7,1035.8 L605.1,1035.7 L606.5,1036.2 L607.9,1036.1 L609.2,1036.1 L610.6,1036.5 L612.0,1036.1 L613.4,1035.5 L614.8,1035.9 L616.2,1035.6 L617.5,1036.1 L618.9,1036.1 L620.3,1036.1" fill="none" stroke="#008080" stroke-width="8.4" stroke-linejoin="round" stroke-linecap="butt"/>
<path d="M633.7,1036.4 L634.7,1036.4 L635.6,1036.4 L636.6,1036.3 L637.6,1036.7 L638.5,1036.8 L639.5,1036.3 L640.4,1036.3 L641.4,1037.1 L642.4,1036.4 L643.3,1036.3 L644.3,1036.3 L645.2,1036.6 L646.2,1035.6 L647.2,1036.1 L648.1,1036.9 L649.1,1036.7 L650.0,1036.1 L651.0,1036.2 L652.0,1036.4 L652.9,1036.4 L653.9,1036.5 L654.8,1036.6 L655.8,1036.8 L656.8,1036.2 L657.7,1037.4 L658.7,1036.7 L659.6,1036.0 L660.6,1036.7 L661.6,1036.8 L662.5,1035.8 L663.5,1036.1 L664.5,1036.5 L665.4,1036.6 L666.4,1036.5 L667.3,1036.6 L668.3,1036.5 L669.3,1036.7 L670.2,1036.2 L671.2,1036.6 L672.1,1037.1 L673.1,1036.9 L674.1,1036.4 L675.0,1036.8 L676.0,1037.3 L676.9,1035.9 L677.9,1036.2 L678.9,1036.6 L679.8,1036.6 L680.8,1036.2 L681.7,1035.9 L682.7,1036.6 L683.7,1036.3 L684.6,1036.6 L685.6,1036.3 L686.5,1036.8 L687.5,1037.0 L688.5,1036.4 L689.4,1036.4 L690.4,1036.2 L691.3,1036.6 L692.3,1035.9 L693.3,1036.4 L694.2,1035.9 L695.2,1036.5 L696.2,1035.9 L697.1,1036.4 L698.1,1036.3 L699.0,1036.0 L700.0,1037.0 L701.0,1036.7 L701.9,1035.7 L702.9,1036.9 L703.8,1036.5 L704.8,1036.2 L705.8,1035.8 L706.7,1036.5 L707.7,1036.3 L708.6,1036.7 L709.6,1036.5 L710.6,1036.0 L711.5,1036.2 L712.5,1036.3 L713.4,1036.2 L714.4,1036.2 L715.4,1036.2 L716.3,1036.4 L717.3,1036.6 L718.2,1036.0 L719.2,1036.7 L720.2,1035.9 L721.1,1035.5 L722.1,1035.7 L723.1,1035.4 L724.0,1036.6 L725.0,1036.1 L725.9,1036.5 L726.9,1036.4 L727.9,1036.7 L728.8,1036.6 L729.8,1035.8 L730.7,1035.8 L731.7,1035.6 L732.7,1035.7 L733.6,1035.7 L734.6,1036.3 L735.5,1036.0 L736.5,1035.7 L737.5,1035.4 L738.4,1036.0 L739.4,1036.0 L740.3,1035.9 L741.3,1035.1 L742.3,1035.4 L743.2,1035.6 L744.2,1035.7 L745.1,1035.1 L746.1,1035.7 L747.1,1035.1 L748.0,1035.1 L749.0,1034.9 L749.9,1034.4 L750.9,1034.1 L751.9,1033.0 L752.8,1033.7 L753.8,1033.3 L754.8,1033.5 L755.7,1033.5 L756.7,1032.2 L757.6,1031.5 L758.6,1032.2 L759.6,1031.5 L760.5,1030.7 L761.5,1030.7 L762.4,1031.1 L763.4,1029.6 L764.4,1029.7 L765.3,1029.1 L766.3,1029.4 L767.2,1028.5 L768.2,1028.3 L769.2,1028.9 L770.1,1028.4 L771.1,1028.9 L772.0,1029.0 L773.0,1029.3 L774.0,1029.4 L774.9,1029.8 L775.9,1029.5 L776.8,1030.3 L777.8,1031.0 L778.8,1030.5 L779.7,1031.2 L780.7,1031.4 L781.6,1032.1 L782.6,1032.2 L783.6,1032.8 L784.5,1033.4 L785.5,1033.4 L786.5,1033.6 L787.4,1033.9 L788.4,1033.9 L789.3,1035.0 L790.3,1034.4 L791.3,1035.0 L792.2,1035.0 L793.2,1034.8 L794.1,1035.1 L795.1,1035.4 L796.1,1035.0 L797.0,1035.4 L798.0,1035.1 L798.9,1035.1 L799.9,1035.6 L800.9,1035.9 L801.8,1035.5 L802.8,1035.3 L803.7,1035.5 L804.7,1036.0 L805.7,1036.2 L806.6,1035.9 L807.6,1035.9 L808.5,1035.3 L809.5,1035.4 L810.5,1035.1 L811.4,1035.4 L812.4,1034.7 L813.4,1035.2 L814.3,1035.0 L815.3,1035.2 L816.2,1034.8 L817.2,1034.5 L818.2,1034.5 L819.1,1034.2 L820.1,1034.7 L821.0,1034.2 L822.0,1033.6 L823.0,1033.9 L823.9,1033.9 L824.9,1033.7 L825.8,1033.6 L826.8,1033.2 L827.8,1032.6 L828.7,1032.7 L829.7,1032.7 L830.6,1032.7 L831.6,1032.7 L832.6,1031.3 L833.5,1032.1 L834.5,1031.7 L835.4,1031.7 L836.4,1031.4 L837.4,1031.4 L838.3,1031.2 L839.3,1030.6 L840.2,1031.3 L841.2,1030.8 L842.2,1031.0 L843.1,1030.7 L844.1,1031.3 L845.1,1030.9 L846.0,1031.5 L847.0,1031.9 L847.9,1031.8 L848.9,1031.9 L849.9,1032.1 L850.8,1032.0 L851.8,1031.7 L852.7,1032.7 L853.7,1032.3 L854.7,1032.6 L855.6,1033.1 L856.6,1033.4 L857.5,1033.1 L858.5,1033.3 L859.5,1033.8 L860.4,1033.9 L861.4,1034.1 L862.3,1034.7 L863.3,1034.4 L864.3,1034.5 L865.2,1034.1 L866.2,1035.3 L867.1,1035.3 L868.1,1035.1 L869.1,1035.4 L870.0,1035.5 L871.0,1035.5 L871.9,1035.6 L872.9,1035.6 L873.9,1035.6 L874.8,1036.3 L875.8,1035.6 L876.8,1036.7 L877.7,1035.4 L878.7,1035.7 L879.6,1036.2 L880.6,1035.7 L881.6,1036.2 L882.5,1036.0 L883.5,1035.9 L884.4,1036.1 L885.4,1036.2 L886.4,1036.0 L887.3,1036.3 L888.3,1036.4 L889.2,1036.6 L890.2,1036.9 L891.2,1035.7 L892.1,1036.0 L893.1,1036.8 L894.0,1036.2 L895.0,1036.3 L896.0,1037.1 L896.9,1036.6 L897.9,1036.4 L898.8,1035.8 L899.8,1036.0 L900.8,1035.9 L901.7,1036.3 L902.7,1036.0 L903.7,1036.8 L904.6,1036.4 L905.6,1036.4 L906.5,1036.4" fill="none" stroke="#008080" stroke-width="8.4" stroke-linejoin="round" stroke-linecap="butt"/>
<text x="236.8" y="1023.5" font-size="41.17" fill="#008080">16.4</text>
<path d="M262.6,914.0 L264.0,913.9 L265.4,913.9 L266.7,913.3 L268.1,914.0 L269.5,913.8 L270.9,913.8 L272.3,913.2 L273.6,913.8 L275.0,913.8 L276.4,914.0 L277.8,913.3 L279.2,913.2 L280.6,913.4 L281.9,913.4 L283.3,913.1 L284.7,912.6 L286.1,913.4 L287.5,912.9 L288.8,912.7 L290.2,912.5 L291.6,912.2 L293.0,912.2 L294.4,912.3 L295.7,911.8 L297.1,911.8 L298.5,912.0 L299.9,911.9 L301.3,912.2 L302.7,911.6 L304.0,911.8 L305.4,911.8 L306.8,911.3 L308.2,911.7 L309.6,911.2 L310.9,910.9 L312.3,910.5 L313.7,910.5 L315.1,910.1 L316.5,909.4 L317.8,909.5 L319.2,909.9 L320.6,909.9 L322.0,909.3 L323.4,909.0 L324.7,909.1 L326.1,908.7 L327.5,908.4 L328.9,907.7 L330.3,906.6 L331.7,906.1 L333.0,906.6 L334.4,906.0 L335.8,905.8 L337.2,905.4 L338.6,904.3 L339.9,903.7 L341.3,903.2 L342.7,902.1 L344.1,901.7 L345.5,900.4 L346.8,900.0 L348.2,898.6 L349.6,897.8 L351.0,896.5 L352.4,895.1 L353.8,894.3 L355.1,892.5 L356.5,890.6 L357.9,888.7 L359.3,886.4 L360.7,884.5 L362.0,882.1 L363.4,878.8 L364.8,875.6 L366.2,872.6 L367.6,868.1 L368.9,864.3 L370.3,859.8 L371.7,855.0 L373.1,850.5 L374.5,844.0 L375.8,839.2 L377.2,832.9 L378.6,826.6 L380.0,820.7 L381.4,814.9 L382.8,809.7 L384.1,804.8 L385.5,800.8 L386.9,797.6 L388.3,796.8 L389.7,796.4 L391.0,797.9 L392.4,800.7 L393.8,804.8 L395.2,809.5 L396.6,815.4 L397.9,820.7 L399.3,826.7 L400.7,833.0 L402.1,838.6 L403.5,844.4 L404.8,850.2 L406.2,854.8 L407.6,860.0 L409.0,863.4 L410.4,868.6 L411.8,872.2 L413.1,875.5 L414.5,878.3 L415.9,880.8 L417.3,883.7 L418.7,886.2 L420.0,887.5 L421.4,889.7 L422.8,891.8 L424.2,893.3 L425.6,895.2 L426.9,895.9 L428.3,896.5 L429.7,898.5 L431.1,899.6 L432.5,899.9 L433.9,901.6 L435.2,901.0 L436.6,902.7 L438.0,903.0 L439.4,903.4 L440.8,903.5 L442.1,904.3 L443.5,905.5 L444.9,905.8 L446.3,905.6 L447.7,906.7 L449.0,906.4 L450.4,906.9 L451.8,906.7 L453.2,906.8 L454.6,908.3 L455.9,907.5 L457.3,907.7 L458.7,908.3 L460.1,908.5 L461.5,908.8 L462.9,908.7 L464.2,908.6 L465.6,908.4 L467.0,908.5 L468.4,909.2 L469.8,909.5 L471.1,908.9 L472.5,910.3 L473.9,909.9 L475.3,909.2 L476.7,908.7 L478.0,909.8 L479.4,909.5 L480.8,909.9 L482.2,909.6 L483.6,909.6 L485.0,909.8 L486.3,909.4 L487.7,909.5 L489.1,909.3 L490.5,909.4 L491.9,909.7 L493.2,909.2 L494.6,908.8 L496.0,909.3 L497.4,908.4 L498.8,908.6 L500.1,908.7 L501.5,908.4 L502.9,908.4 L504.3,908.3 L505.7,907.5 L507.0,907.2 L508.4,907.4 L509.8,907.0 L511.2,906.7 L512.6,906.0 L514.0,905.3 L515.3,905.6 L516.7,904.8 L518.1,904.4 L519.5,903.6 L520.9,902.7 L522.2,902.8 L523.6,902.4 L525.0,901.0 L526.4,900.5 L527.8,898.4 L529.1,898.1 L530.5,896.8 L531.9,895.3 L533.3,893.8 L534.7,892.5 L536.1,890.6 L537.4,888.4 L538.8,886.8 L540.2,883.9 L541.6,882.1 L543.0,880.6 L544.3,877.0 L545.7,875.3 L547.1,872.1 L548.5,869.1 L549.9,867.3 L551.2,866.2 L552.6,864.7 L554.0,863.4 L555.4,862.5 L556.8,863.2 L558.1,862.9 L559.5,863.8 L560.9,864.6 L562.3,865.3 L563.7,865.3 L565.1,866.8 L566.4,867.1 L567.8,866.8 L569.2,867.5 L570.6,869.5 L572.0,871.2 L573.3,874.1 L574.7,877.1 L576.1,881.7 L577.5,885.7 L578.9,890.7 L580.2,895.5 L581.6,899.7 L583.0,903.2 L584.4,906.1 L585.8,908.7 L587.2,910.3 L588.5,911.5 L589.9,912.7 L591.3,913.1 L592.7,914.0 L594.1,914.6 L595.4,914.6 L596.8,914.3 L598.2,914.5 L599.6,915.7 L601.0,915.1 L602.3,915.5 L603.7,915.5 L605.1,915.5 L606.5,915.5 L607.9,915.6 L609.2,915.6 L610.6,915.4 L612.0,915.9 L613.4,915.9 L614.8,915.9 L616.2,915.9 L617.5,915.6 L618.9,915.6 L620.3,915.6" fill="none" stroke="#0000ff" stroke-width="8.4" stroke-linejoin="round" stroke-linecap="butt"/>
<path d="M633.7,916.0 L634.7,916.0 L635.6,916.0 L636.6,915.7 L637.6,916.0 L638.5,915.9 L639.5,915.8 L640.4,916.5 L641.4,915.9 L642.4,915.5 L643.3,916.0 L644.3,916.1 L645.2,915.4 L646.2,916.0 L647.2,915.6 L648.1,916.8 L649.1,916.0 L650.0,916.2 L651.0,915.9 L652.0,915.6 L652.9,916.1 L653.9,916.1 L654.8,917.0 L655.8,915.8 L656.8,915.6 L657.7,916.0 L658.7,916.2 L659.6,915.9 L660.6,915.7 L661.6,915.8 L662.5,915.3 L663.5,916.2 L664.5,916.5 L665.4,915.8 L666.4,915.6 L667.3,916.2 L668.3,916.0 L669.3,916.2 L670.2,916.4 L671.2,916.2 L672.1,916.7 L673.1,915.9 L674.1,915.8 L675.0,915.7 L676.0,916.3 L676.9,916.2 L677.9,916.6 L678.9,916.5 L679.8,915.7 L680.8,915.0 L681.7,916.3 L682.7,916.1 L683.7,915.7 L684.6,916.2 L685.6,915.8 L686.5,916.1 L687.5,916.1 L688.5,915.7 L689.4,916.0 L690.4,916.4 L691.3,915.7 L692.3,915.9 L693.3,916.1 L694.2,916.2 L695.2,915.7 L696.2,916.2 L697.1,915.9 L698.1,915.6 L699.0,916.0 L700.0,915.5 L701.0,916.4 L701.9,915.7 L702.9,915.7 L703.8,915.3 L704.8,915.9 L705.8,915.6 L706.7,915.9 L707.7,916.2 L708.6,916.2 L709.6,916.1 L710.6,915.6 L711.5,916.1 L712.5,915.8 L713.4,915.5 L714.4,915.4 L715.4,915.5 L716.3,915.3 L717.3,916.2 L718.2,915.9 L719.2,915.6 L720.2,915.4 L721.1,915.6 L722.1,916.0 L723.1,915.8 L724.0,916.2 L725.0,915.4 L725.9,916.2 L726.9,915.5 L727.9,915.2 L728.8,915.3 L729.8,916.1 L730.7,915.4 L731.7,915.6 L732.7,915.5 L733.6,914.8 L734.6,915.3 L735.5,915.8 L736.5,915.6 L737.5,914.9 L738.4,915.0 L739.4,915.4 L740.3,915.5 L741.3,915.0 L742.3,914.9 L743.2,914.4 L744.2,914.7 L745.1,914.2 L746.1,913.8 L747.1,914.6 L748.0,914.1 L749.0,913.2 L749.9,913.6 L750.9,913.3 L751.9,912.7 L752.8,913.0 L753.8,912.6 L754.8,912.8 L755.7,911.7 L756.7,911.8 L757.6,911.4 L758.6,911.8 L759.6,910.3 L760.5,910.1 L761.5,910.2 L762.4,909.2 L763.4,910.1 L764.4,909.0 L765.3,909.3 L766.3,907.5 L767.2,909.1 L768.2,908.4 L769.2,908.1 L770.1,907.5 L771.1,907.4 L772.0,907.5 L773.0,907.8 L774.0,907.1 L774.9,908.2 L775.9,908.0 L776.8,907.7 L777.8,909.0 L778.8,909.1 L779.7,908.8 L780.7,909.3 L781.6,910.3 L782.6,910.1 L783.6,909.8 L784.5,910.9 L785.5,910.9 L786.5,911.4 L787.4,912.0 L788.4,911.5 L789.3,912.0 L790.3,912.2 L791.3,912.9 L792.2,913.0 L793.2,913.2 L794.1,913.3 L795.1,913.8 L796.1,914.0 L797.0,913.6 L798.0,914.5 L798.9,914.4 L799.9,914.5 L800.9,914.6 L801.8,914.9 L802.8,914.9 L803.7,914.4 L804.7,914.8 L805.7,915.0 L806.6,914.2 L807.6,915.2 L808.5,914.4 L809.5,914.6 L810.5,915.2 L811.4,914.8 L812.4,914.8 L813.4,914.1 L814.3,914.2 L815.3,914.5 L816.2,914.7 L817.2,914.8 L818.2,914.2 L819.1,914.5 L820.1,914.0 L821.0,913.9 L822.0,913.5 L823.0,913.2 L823.9,913.3 L824.9,913.0 L825.8,913.1 L826.8,912.5 L827.8,912.4 L828.7,912.0 L829.7,911.9 L830.6,912.4 L831.6,912.5 L832.6,911.6 L833.5,911.2 L834.5,911.7 L835.4,910.8 L836.4,911.1 L837.4,911.1 L838.3,910.8 L839.3,911.3 L840.2,911.3 L841.2,910.8 L842.2,911.0 L843.1,910.6 L844.1,910.6 L845.1,911.5 L846.0,910.9 L847.0,910.5 L847.9,911.6 L848.9,911.0 L849.9,911.5 L850.8,911.8 L851.8,910.9 L852.7,911.1 L853.7,911.8 L854.7,912.0 L855.6,911.5 L856.6,911.8 L857.5,912.4 L858.5,912.3 L859.5,912.7 L860.4,913.1 L861.4,912.9 L862.3,913.5 L863.3,913.3 L864.3,913.8 L865.2,914.0 L866.2,914.2 L867.1,914.0 L868.1,914.0 L869.1,914.3 L870.0,914.9 L871.0,914.5 L871.9,915.1 L872.9,915.3 L873.9,915.1 L874.8,914.8 L875.8,915.0 L876.8,915.1 L877.7,914.9 L878.7,915.1 L879.6,915.6 L880.6,915.3 L881.6,915.7 L882.5,915.5 L883.5,915.5 L884.4,915.7 L885.4,916.2 L886.4,915.8 L887.3,915.9 L888.3,915.8 L889.2,916.0 L890.2,916.2 L891.2,916.4 L892.1,915.7 L893.1,915.6 L894.0,915.8 L895.0,915.9 L896.0,915.3 L896.9,915.7 L897.9,915.9 L898.8,915.7 L899.8,916.0 L900.8,915.7 L901.7,915.9 L902.7,915.8 L903.7,916.0 L904.6,916.0 L905.6,916.0 L906.5,916.0" fill="none" stroke="#0000ff" stroke-width="8.4" stroke-linejoin="round" stroke-linecap="butt"/>
<text x="236.8" y="903.5" font-size="41.84" fill="#0000ff">17.3</text>
<g class="r" font-size="40" stroke="#000" stroke-width="1.5">
<text class="r" transform="translate(374.8,779.5) scale(1.0252,1)" font-size="40.00" fill="#000">D</text>
<text class="r" transform="translate(195.5,844.5) scale(1.0342,1)" font-size="40.00" fill="#000">I(D)/I(2D)</text>
<text class="r" transform="translate(531.5,851.8) scale(1.0191,1)" font-size="40.00" fill="#000">G</text>
<text class="r" transform="translate(573.2,862.2) scale(1.1282,1)" font-size="40.00" fill="#000">D'</text>
<text class="r" transform="translate(741.4,893.0) scale(1.0320,1)" font-size="40.00" fill="#000">2D D+D'</text>
</g>
<text x="89.2" y="726.3" font-size="50.31" fill="#000">(c)</text>
</g>
<g id="pd">
<rect x="1134" y="732.3" width="646" height="272.70000000000005" fill="none" stroke="#000" stroke-width="4.6"/>
<line x1="1134" y1="974.3" x2="1154" y2="974.3" stroke="#000" stroke-width="4.4"/>
<text x="1106" y="987.1" font-size="48" text-anchor="end">1</text>
<line x1="1134" y1="908.8" x2="1154" y2="908.8" stroke="#000" stroke-width="4.4"/>
<text x="1106" y="921.6" font-size="48" text-anchor="end">2</text>
<line x1="1134" y1="843.3" x2="1154" y2="843.3" stroke="#000" stroke-width="4.4"/>
<text x="1106" y="856.1" font-size="48" text-anchor="end">3</text>
<line x1="1134" y1="777.8" x2="1154" y2="777.8" stroke="#000" stroke-width="4.4"/>
<text x="1106" y="790.6" font-size="48" text-anchor="end">4</text>
<line x1="1208.3" y1="1005" x2="1208.3" y2="991.5" stroke="#000" stroke-width="4.2"/>
<line x1="1252.1" y1="1005" x2="1252.1" y2="991.5" stroke="#000" stroke-width="4.2"/>
<line x1="1283.2" y1="1005" x2="1283.2" y2="991.5" stroke="#000" stroke-width="4.2"/>
<line x1="1307.3" y1="1005" x2="1307.3" y2="991.5" stroke="#000" stroke-width="4.2"/>
<line x1="1327.1" y1="1005" x2="1327.1" y2="991.5" stroke="#000" stroke-width="4.2"/>
<line x1="1343.7" y1="1005" x2="1343.7" y2="991.5" stroke="#000" stroke-width="4.2"/>
<line x1="1358.2" y1="1005" x2="1358.2" y2="991.5" stroke="#000" stroke-width="4.2"/>
<line x1="1370.9" y1="1005" x2="1370.9" y2="991.5" stroke="#000" stroke-width="4.2"/>
<line x1="1382.3" y1="1005" x2="1382.3" y2="980" stroke="#000" stroke-width="4.2"/>
<line x1="1457.3" y1="1005" x2="1457.3" y2="991.5" stroke="#000" stroke-width="4.2"/>
<line x1="1501.1" y1="1005" x2="1501.1" y2="991.5" stroke="#000" stroke-width="4.2"/>
<line x1="1532.2" y1="1005" x2="1532.2" y2="991.5" stroke="#000" stroke-width="4.2"/>
<line x1="1556.3" y1="1005" x2="1556.3" y2="991.5" stroke="#000" stroke-width="4.2"/>
<line x1="1576.1" y1="1005" x2="1576.1" y2="991.5" stroke="#000" stroke-width="4.2"/>
<line x1="1592.7" y1="1005" x2="1592.7" y2="991.5" stroke="#000" stroke-width="4.2"/>
<line x1="1607.2" y1="1005" x2="1607.2" y2="991.5" stroke="#000" stroke-width="4.2"/>
<line x1="1619.9" y1="1005" x2="1619.9" y2="991.5" stroke="#000" stroke-width="4.2"/>
<line x1="1631.3" y1="1005" x2="1631.3" y2="980" stroke="#000" stroke-width="4.2"/>
<line x1="1706.3" y1="1005" x2="1706.3" y2="991.5" stroke="#000" stroke-width="4.2"/>
<line x1="1750.1" y1="1005" x2="1750.1" y2="991.5" stroke="#000" stroke-width="4.2"/>
<text x="1098.1" y="1068.3" font-size="48.00" fill="#000">0.1</text>
<text x="1367.3" y="1068.3" font-size="48.00" fill="#000">1</text>
<text x="1604.7" y="1068.3" font-size="48.00" fill="#000">10</text>
<rect x="1235.0" y="939.3" width="28" height="28" fill="#000"/>
<rect x="1267.5" y="915.3" width="28" height="28" fill="#000"/>
<rect x="1390.0" y="788.8" width="28" height="28" fill="#000"/>
<rect x="1539.5" y="759.8" width="28" height="28" fill="#000"/>
<rect x="1597.5" y="832.2" width="28" height="28" fill="#000"/>
<rect x="1627.0" y="875.0" width="28" height="28" fill="#000"/>
<text font-style="italic" transform="translate(1314.0,1116.7) scale(0.9518,1)" font-size="46.00" fill="#000">n</text><text font-style="italic" transform="translate(1342.7,1133.3) scale(1.1502,1)" font-size="25.76" fill="#000">D</text><text transform="translate(1374.2,1116.7) scale(1.1070,1)" font-size="46.00" fill="#000">(10</text><text transform="translate(1449.2,1093.3) scale(1.0018,1)" font-size="25.30" fill="#000">12</text><text transform="translate(1489.7,1116.7) scale(1.0603,1)" font-size="46.00" fill="#000">cm</text><text transform="translate(1559.5,1093.3) scale(1.1858,1)" font-size="25.30" fill="#000">-2</text><text transform="translate(1587.3,1116.7) scale(1.0221,1)" font-size="46.00" fill="#000">)</text>
<text transform="translate(1034.1,999.3) rotate(-90) scale(1,1.034)" font-size="47.64" fill="#000">I(D) / I(G)</text>
<text x="980.5" y="726.0" font-size="48.47" fill="#000">(d)</text>
</g>
<g id="pe">
<clipPath id="ce"><rect x="1136" y="1189.2" width="637.3" height="492.39999999999986"/></clipPath>
<g clip-path="url(#ce)">
<path d="M1141.0,1658.1 L1143.5,1657.6 L1145.9,1657.0 L1148.4,1656.5 L1150.8,1655.9 L1153.3,1655.3 L1155.7,1654.8 L1158.2,1654.1 L1160.6,1653.5 L1163.1,1652.9 L1165.5,1652.2 L1168.0,1651.6 M1179.7,1648.2 L1182.2,1647.5 L1184.6,1646.7 L1187.1,1645.9 L1189.5,1645.1 L1192.0,1644.3 L1194.4,1643.5 L1196.9,1642.6 L1199.3,1641.8 L1201.8,1640.9 L1204.2,1640.0 L1206.7,1639.1 M1218.4,1634.4 L1220.9,1633.3 L1223.3,1632.3 L1225.8,1631.2 L1228.2,1630.1 L1230.7,1628.9 L1233.1,1627.8 L1235.6,1626.6 L1238.0,1625.4 L1240.5,1624.2 L1242.9,1622.9 L1245.4,1621.6 M1257.1,1615.2 L1259.6,1613.8 L1262.0,1612.3 L1264.5,1610.8 L1266.9,1609.3 L1269.4,1607.7 L1271.8,1606.2 L1274.3,1604.5 L1276.7,1602.9 L1279.2,1601.2 L1281.6,1599.5 L1284.1,1597.8 M1295.8,1589.1 L1298.3,1587.1 L1300.7,1585.2 L1303.2,1583.2 L1305.6,1581.1 L1308.1,1579.1 L1310.5,1576.9 L1313.0,1574.8 L1315.4,1572.6 L1317.9,1570.4 L1320.3,1568.1 L1322.8,1565.8 M1334.5,1554.3 L1337.0,1551.8 L1339.4,1549.3 L1341.9,1546.7 L1344.3,1544.0 L1346.8,1541.3 L1349.2,1538.6 L1351.7,1535.8 L1354.1,1533.0 L1356.6,1530.2 L1359.0,1527.3 L1361.5,1524.3 M1373.2,1509.8 L1375.7,1506.6 L1378.1,1503.4 L1380.6,1500.2 L1383.0,1496.9 L1385.5,1493.5 L1387.9,1490.2 L1390.4,1486.8 L1392.8,1483.3 L1395.3,1479.8 L1397.7,1476.3 L1400.2,1472.8 M1411.9,1455.4 L1414.4,1451.6 L1416.8,1447.8 L1419.3,1444.0 L1421.7,1440.2 L1424.2,1436.3 L1426.6,1432.5 L1429.1,1428.5 L1431.5,1424.6 L1434.0,1420.7 L1436.4,1416.7 L1438.9,1412.7 M1450.6,1393.5 L1453.1,1389.4 L1455.5,1385.4 L1458.0,1381.3 L1460.4,1377.2 L1462.9,1373.2 L1465.3,1369.1 L1467.8,1365.0 L1470.2,1361.0 L1472.7,1356.9 L1475.1,1352.9 L1477.6,1348.9 M1489.3,1330.0 L1491.8,1326.1 L1494.2,1322.3 L1496.7,1318.5 L1499.1,1314.7 L1501.6,1310.9 L1504.0,1307.2 L1506.5,1303.6 L1508.9,1300.0 L1511.4,1296.4 L1513.8,1292.9 L1516.3,1289.5 M1528.0,1273.8 L1530.5,1270.7 L1532.9,1267.7 L1535.4,1264.7 L1537.8,1261.9 L1540.3,1259.0 L1542.7,1256.3 L1545.2,1253.6 L1547.6,1251.0 L1550.1,1248.5 L1552.5,1246.1 L1555.0,1243.7 M1566.7,1233.6 L1569.2,1231.7 L1571.6,1229.9 L1574.1,1228.2 L1576.5,1226.5 L1579.0,1225.0 L1581.4,1223.5 L1583.9,1222.0 L1586.3,1220.7 L1588.8,1219.4 L1591.2,1218.2 L1593.7,1217.1 M1605.4,1212.6 L1607.9,1211.8 L1610.3,1211.1 L1612.8,1210.4 L1615.2,1209.8 L1617.7,1209.3 L1620.1,1208.8 L1622.6,1208.3 L1625.0,1207.9 L1627.5,1207.5 L1629.9,1207.2 L1632.4,1206.9 M1644.1,1205.8 L1646.6,1205.7 L1649.0,1205.6 L1651.5,1205.5 L1653.9,1205.4 L1656.4,1205.3 L1658.8,1205.3 L1661.3,1205.2 L1663.7,1205.2 L1666.2,1205.2 L1668.6,1205.2 L1671.1,1205.2 M1682.8,1205.3 L1685.3,1205.3 L1687.7,1205.3 L1690.2,1205.4 L1692.6,1205.4 L1695.1,1205.5 L1697.5,1205.5 L1700.0,1205.5 L1702.4,1205.6 L1704.9,1205.6 L1707.3,1205.6 L1709.8,1205.7 M1721.5,1205.8 L1724.0,1205.8 L1726.4,1205.9 L1728.9,1205.9 L1731.3,1205.9 L1733.8,1206.0 L1736.2,1206.0 L1738.7,1206.0 L1741.1,1206.0 L1743.6,1206.0 L1746.0,1206.0 L1748.5,1206.1 M1760.2,1206.1 L1761.4,1206.1 L1762.6,1206.1 L1763.8,1206.1 L1765.0,1206.1 L1766.2,1206.2 L1767.3,1206.2 L1768.5,1206.2 L1769.7,1206.2 L1770.9,1206.2 L1772.1,1206.2 L1773.3,1206.2" fill="none" stroke="#ff0000" stroke-width="5.2"/>
<path d="M1136.3,1660.8 L1138.4,1660.4 L1140.6,1660.0 L1142.7,1659.5 L1144.8,1659.1 L1147.0,1658.7 L1149.1,1658.2 L1151.2,1657.8 L1153.4,1657.3 L1155.5,1656.8 L1157.6,1656.4 L1159.8,1655.9 L1161.9,1655.4 L1164.0,1654.9 L1166.1,1654.3 L1168.3,1653.8 L1170.4,1653.3 L1172.5,1652.7 L1174.7,1652.2 L1176.8,1651.6 L1178.9,1651.0 L1181.1,1650.4 L1183.2,1649.8 L1185.3,1649.2 L1187.5,1648.6 L1189.6,1648.0 L1191.7,1647.3 L1193.9,1646.7 L1196.0,1646.0 L1198.1,1645.3 L1200.3,1644.6 L1202.4,1643.9 L1204.5,1643.2 L1206.7,1642.5 L1208.8,1641.7 L1210.9,1641.0 L1213.1,1640.2 L1215.2,1639.4 L1217.3,1638.6 L1219.5,1637.8 L1221.6,1637.0 L1223.7,1636.1 L1225.8,1635.3 L1228.0,1634.4 L1230.1,1633.5 L1232.2,1632.6 L1234.4,1631.7 L1236.5,1630.7 L1238.6,1629.8 L1240.8,1628.8 L1242.9,1627.9 L1245.0,1626.9 L1247.2,1625.8 L1249.3,1624.8 L1251.4,1623.8 L1253.6,1622.7 L1255.7,1621.6 L1257.8,1620.5 L1260.0,1619.4 L1262.1,1618.2 L1264.2,1617.1 L1266.4,1615.9 L1268.5,1614.7 L1270.6,1613.5 L1272.8,1612.3 L1274.9,1611.0 L1277.0,1609.8 L1279.2,1608.5 L1281.3,1607.1 L1283.4,1605.8 L1285.5,1604.5 L1287.7,1603.1 L1289.8,1601.7 L1291.9,1600.3 L1294.1,1598.8 L1296.2,1597.4 L1298.3,1595.9 L1300.5,1594.4 L1302.6,1592.9 L1304.7,1591.4 L1306.9,1589.8 L1309.0,1588.2 L1311.1,1586.6 L1313.3,1585.0 L1315.4,1583.3 L1317.5,1581.6 L1319.7,1579.9 L1321.8,1578.2 L1323.9,1576.5 L1326.1,1574.7 L1328.2,1572.9 L1330.3,1571.1 L1332.5,1569.3 L1334.6,1567.4 L1336.7,1565.6 L1338.9,1563.7 L1341.0,1561.7 L1343.1,1559.8 L1345.2,1557.8 L1347.4,1555.8 L1349.5,1553.8 L1351.6,1551.8 L1353.8,1549.8 L1355.9,1547.7 L1358.0,1545.6 L1360.2,1543.5 L1362.3,1541.3 L1364.4,1539.2 L1366.6,1537.0 L1368.7,1534.8 L1370.8,1532.6 L1373.0,1530.4 L1375.1,1528.1 L1377.2,1525.9 L1379.4,1523.6 L1381.5,1521.3 L1383.6,1518.9 L1385.8,1516.6 L1387.9,1514.3 L1390.0,1511.9 L1392.2,1509.5 L1394.3,1507.1 L1396.4,1504.7 L1398.6,1502.3 L1400.7,1499.9 L1402.8,1497.5 L1404.9,1495.0 L1407.1,1492.6 L1409.2,1490.1 L1411.3,1487.6 L1413.5,1485.2 L1415.6,1482.7 L1417.7,1480.2 L1419.9,1477.7 L1422.0,1475.3 L1424.1,1472.8 L1426.3,1470.3 L1428.4,1467.8 L1430.5,1465.3 L1432.7,1462.9 L1434.8,1460.4 L1436.9,1458.0 L1439.1,1455.5 L1441.2,1453.1 L1443.3,1450.7 L1445.5,1448.3 L1447.6,1445.9 L1449.7,1443.5 L1451.9,1441.2 L1454.0,1438.9 L1456.1,1436.6 L1458.3,1434.3 L1460.4,1432.0 L1462.5,1429.8 L1464.6,1427.6 L1466.8,1425.4 L1468.9,1423.3 L1471.0,1421.2 L1473.2,1419.1 L1475.3,1417.1 L1477.4,1415.2 L1479.6,1413.2 L1481.7,1411.3 L1483.8,1409.5 L1486.0,1407.7 L1488.1,1405.9 L1490.2,1404.2 L1492.4,1402.6 L1494.5,1401.0 L1496.6,1399.5 L1498.8,1398.0 L1500.9,1396.6 L1503.0,1395.3 L1505.2,1394.0 L1507.3,1392.7 L1509.4,1391.6 L1511.6,1390.5 L1513.7,1389.5 L1515.8,1388.5 L1517.9,1387.7 L1520.1,1386.9 L1522.2,1386.1 L1524.3,1385.5 L1526.5,1384.9 L1528.6,1384.4 L1530.7,1384.0 L1532.9,1383.7 L1535.0,1383.4 L1537.1,1383.2 L1539.3,1383.1 L1541.4,1383.1 L1543.5,1383.1 L1545.7,1383.3 L1547.8,1383.5 L1549.9,1383.8 L1552.1,1384.1 L1554.2,1384.6 L1556.3,1385.1 L1558.5,1385.7 L1560.6,1386.3 L1562.7,1387.1 L1564.9,1387.9 L1567.0,1388.8 L1569.1,1389.8 L1571.3,1390.8 L1573.4,1391.9 L1575.5,1393.0 L1577.6,1394.2 L1579.8,1395.5 L1581.9,1396.8 L1584.0,1398.2 L1586.2,1399.7 L1588.3,1401.2 L1590.4,1402.7 L1592.6,1404.3 L1594.7,1405.9 L1596.8,1407.6 L1599.0,1409.3 L1601.1,1411.0 L1603.2,1412.8 L1605.4,1414.6 L1607.5,1416.4 L1609.6,1418.2 L1611.8,1420.1 L1613.9,1421.9 L1616.0,1423.8 L1618.2,1425.7 L1620.3,1427.6 L1622.4,1429.5 L1624.6,1431.4 L1626.7,1433.3 L1628.8,1435.2 L1631.0,1437.0 L1633.1,1438.9 L1635.2,1440.7 L1637.3,1442.6 L1639.5,1444.4 L1641.6,1446.2 L1643.7,1447.9 L1645.9,1449.6 L1648.0,1451.4 L1650.1,1453.0 L1652.3,1454.7 L1654.4,1456.3 L1656.5,1457.8 L1658.7,1459.4 L1660.8,1460.9 L1662.9,1462.3 L1665.1,1463.8 L1667.2,1465.1 L1669.3,1466.5 L1671.5,1467.7 L1673.6,1469.0 L1675.7,1470.2 L1677.9,1471.4 L1680.0,1472.5 L1682.1,1473.5 L1684.3,1474.6 L1686.4,1475.6 L1688.5,1476.5 L1690.7,1477.4 L1692.8,1478.3 L1694.9,1479.1 L1697.0,1479.9 L1699.2,1480.6 L1701.3,1481.3 L1703.4,1482.0 L1705.6,1482.6 L1707.7,1483.2 L1709.8,1483.7 L1712.0,1484.3 L1714.1,1484.7 L1716.2,1485.2 L1718.4,1485.6 L1720.5,1486.0 L1722.6,1486.4 L1724.8,1486.7 L1726.9,1487.1 L1729.0,1487.4 L1731.2,1487.6 L1733.3,1487.9 L1735.4,1488.1 L1737.6,1488.3 L1739.7,1488.5 L1741.8,1488.7 L1744.0,1488.9 L1746.1,1489.0 L1748.2,1489.2 L1750.4,1489.3 L1752.5,1489.4 L1754.6,1489.5 L1756.7,1489.6 L1758.9,1489.7 L1761.0,1489.7 L1763.1,1489.8 L1765.3,1489.8 L1767.4,1489.9 L1769.5,1489.9 L1771.7,1490.0 L1773.8,1490.0" fill="none" stroke="#000" stroke-width="5.6"/>
<path d="M1141.0,1663.6 L1143.5,1663.2 L1145.9,1662.8 L1148.4,1662.4 L1150.8,1661.9 L1153.3,1661.5 L1155.7,1661.0 L1158.2,1660.6 L1160.6,1660.1 L1163.1,1659.6 L1165.5,1659.1 L1168.0,1658.6 M1179.7,1656.1 L1182.2,1655.5 L1184.6,1654.9 L1187.1,1654.4 L1189.5,1653.7 L1192.0,1653.1 L1194.4,1652.5 L1196.9,1651.9 L1199.3,1651.2 L1201.8,1650.5 L1204.2,1649.9 L1206.7,1649.2 M1218.4,1645.6 L1220.9,1644.8 L1223.3,1644.0 L1225.8,1643.2 L1228.2,1642.4 L1230.7,1641.5 L1233.1,1640.7 L1235.6,1639.8 L1238.0,1638.9 L1240.5,1638.0 L1242.9,1637.0 L1245.4,1636.1 M1257.1,1631.3 L1259.6,1630.2 L1262.0,1629.1 L1264.5,1628.0 L1266.9,1626.9 L1269.4,1625.7 L1271.8,1624.6 L1274.3,1623.4 L1276.7,1622.2 L1279.2,1620.9 L1281.6,1619.7 L1284.1,1618.4 M1295.8,1612.0 L1298.3,1610.6 L1300.7,1609.2 L1303.2,1607.7 L1305.6,1606.2 L1308.1,1604.7 L1310.5,1603.2 L1313.0,1601.6 L1315.4,1600.0 L1317.9,1598.4 L1320.3,1596.8 L1322.8,1595.1 M1334.5,1586.9 L1337.0,1585.1 L1339.4,1583.3 L1341.9,1581.4 L1344.3,1579.5 L1346.8,1577.6 L1349.2,1575.7 L1351.7,1573.8 L1354.1,1571.8 L1356.6,1569.8 L1359.0,1567.8 L1361.5,1565.7 M1373.2,1555.6 L1375.7,1553.5 L1378.1,1551.3 L1380.6,1549.1 L1383.0,1546.8 L1385.5,1544.6 L1387.9,1542.3 L1390.4,1540.0 L1392.8,1537.7 L1395.3,1535.4 L1397.7,1533.0 L1400.2,1530.7 M1411.9,1519.3 L1414.4,1516.9 L1416.8,1514.5 L1419.3,1512.1 L1421.7,1509.6 L1424.2,1507.2 L1426.6,1504.8 L1429.1,1502.4 L1431.5,1499.9 L1434.0,1497.5 L1436.4,1495.1 L1438.9,1492.7 M1450.6,1481.3 L1453.1,1479.0 L1455.5,1476.7 L1458.0,1474.4 L1460.4,1472.1 L1462.9,1469.9 L1465.3,1467.7 L1467.8,1465.5 L1470.2,1463.3 L1472.7,1461.2 L1475.1,1459.1 L1477.6,1457.1 M1489.3,1448.0 L1491.8,1446.2 L1494.2,1444.5 L1496.7,1442.8 L1499.1,1441.2 L1501.6,1439.6 L1504.0,1438.1 L1506.5,1436.7 L1508.9,1435.4 L1511.4,1434.1 L1513.8,1432.8 L1516.3,1431.7 M1528.0,1427.2 L1530.5,1426.5 L1532.9,1425.8 L1535.4,1425.2 L1537.8,1424.8 L1540.3,1424.3 L1542.7,1424.0 L1545.2,1423.8 L1547.6,1423.6 L1550.1,1423.5 L1552.5,1423.5 L1555.0,1423.5 M1566.7,1424.8 L1569.2,1425.3 L1571.6,1425.9 L1574.1,1426.5 L1576.5,1427.2 L1579.0,1427.9 L1581.4,1428.7 L1583.9,1429.6 L1586.3,1430.5 L1588.8,1431.5 L1591.2,1432.5 L1593.7,1433.6 M1605.4,1439.3 L1607.9,1440.6 L1610.3,1441.9 L1612.8,1443.2 L1615.2,1444.5 L1617.7,1445.9 L1620.1,1447.3 L1622.6,1448.7 L1625.0,1450.1 L1627.5,1451.4 L1629.9,1452.8 L1632.4,1454.2 M1644.1,1460.7 L1646.6,1462.0 L1649.0,1463.3 L1651.5,1464.6 L1653.9,1465.8 L1656.4,1467.0 L1658.8,1468.2 L1661.3,1469.4 L1663.7,1470.5 L1666.2,1471.6 L1668.6,1472.6 L1671.1,1473.6 M1682.8,1478.0 L1685.3,1478.9 L1687.7,1479.6 L1690.2,1480.4 L1692.6,1481.1 L1695.1,1481.8 L1697.5,1482.4 L1700.0,1483.0 L1702.4,1483.6 L1704.9,1484.1 L1707.3,1484.6 L1709.8,1485.1 M1721.5,1487.0 L1724.0,1487.3 L1726.4,1487.6 L1728.9,1487.8 L1731.3,1488.1 L1733.8,1488.3 L1736.2,1488.5 L1738.7,1488.7 L1741.1,1488.9 L1743.6,1489.0 L1746.0,1489.2 L1748.5,1489.3 M1760.2,1489.7 L1761.4,1489.8 L1762.6,1489.8 L1763.8,1489.8 L1765.0,1489.9 L1766.2,1489.9 L1767.3,1489.9 L1768.5,1489.9 L1769.7,1490.0 L1770.9,1490.0 L1772.1,1490.0 L1773.3,1490.0" fill="none" stroke="#2db00f" stroke-width="5.2"/>
</g>
<rect x="1136" y="1189.2" width="637.3" height="492.39999999999986" fill="none" stroke="#000" stroke-width="4.6"/>
<line x1="1136" y1="1565.6" x2="1157" y2="1565.6" stroke="#000" stroke-width="4.4"/>
<line x1="1136" y1="1449.7" x2="1157" y2="1449.7" stroke="#000" stroke-width="4.4"/>
<line x1="1136" y1="1333.7" x2="1157" y2="1333.7" stroke="#000" stroke-width="4.4"/>
<line x1="1136" y1="1217.8" x2="1157" y2="1217.8" stroke="#000" stroke-width="4.4"/>
<text x="1047.1" y="1695.0" font-size="47.94" fill="#000">0.0</text>
<text x="1047.1" y="1579.1" font-size="47.94" fill="#000">0.2</text>
<text x="1047.1" y="1463.2" font-size="46.69" fill="#000">0.4</text>
<text x="1047.1" y="1347.2" font-size="47.76" fill="#000">0.6</text>
<text x="1047.1" y="1231.3" font-size="47.58" fill="#000">0.8</text>
<line x1="1210.1" y1="1681.6" x2="1210.1" y2="1668.1" stroke="#000" stroke-width="4.2"/>
<line x1="1253.2" y1="1681.6" x2="1253.2" y2="1668.1" stroke="#000" stroke-width="4.2"/>
<line x1="1283.8" y1="1681.6" x2="1283.8" y2="1668.1" stroke="#000" stroke-width="4.2"/>
<line x1="1307.5" y1="1681.6" x2="1307.5" y2="1668.1" stroke="#000" stroke-width="4.2"/>
<line x1="1326.9" y1="1681.6" x2="1326.9" y2="1668.1" stroke="#000" stroke-width="4.2"/>
<line x1="1343.3" y1="1681.6" x2="1343.3" y2="1668.1" stroke="#000" stroke-width="4.2"/>
<line x1="1357.6" y1="1681.6" x2="1357.6" y2="1668.1" stroke="#000" stroke-width="4.2"/>
<line x1="1370.1" y1="1681.6" x2="1370.1" y2="1668.1" stroke="#000" stroke-width="4.2"/>
<line x1="1381.3" y1="1681.6" x2="1381.3" y2="1656.6" stroke="#000" stroke-width="4.2"/>
<line x1="1455.1" y1="1681.6" x2="1455.1" y2="1668.1" stroke="#000" stroke-width="4.2"/>
<line x1="1498.2" y1="1681.6" x2="1498.2" y2="1668.1" stroke="#000" stroke-width="4.2"/>
<line x1="1528.8" y1="1681.6" x2="1528.8" y2="1668.1" stroke="#000" stroke-width="4.2"/>
<line x1="1552.5" y1="1681.6" x2="1552.5" y2="1668.1" stroke="#000" stroke-width="4.2"/>
<line x1="1571.9" y1="1681.6" x2="1571.9" y2="1668.1" stroke="#000" stroke-width="4.2"/>
<line x1="1588.3" y1="1681.6" x2="1588.3" y2="1668.1" stroke="#000" stroke-width="4.2"/>
<line x1="1602.6" y1="1681.6" x2="1602.6" y2="1668.1" stroke="#000" stroke-width="4.2"/>
<line x1="1615.1" y1="1681.6" x2="1615.1" y2="1668.1" stroke="#000" stroke-width="4.2"/>
<line x1="1626.3" y1="1681.6" x2="1626.3" y2="1656.6" stroke="#000" stroke-width="4.2"/>
<line x1="1700.1" y1="1681.6" x2="1700.1" y2="1668.1" stroke="#000" stroke-width="4.2"/>
<line x1="1743.2" y1="1681.6" x2="1743.2" y2="1668.1" stroke="#000" stroke-width="4.2"/>
<text x="1099.6" y="1742.3" font-size="47.50" fill="#000">0.1</text>
<text x="1364.8" y="1742.3" font-size="47.50" fill="#000">1</text>
<text x="1599.4" y="1742.3" font-size="47.50" fill="#000">10</text>
<rect x="1236.4" y="1629.4" width="27.6" height="27.6" fill="#0000ff"/>
<rect x="1268.4" y="1613.5" width="27.6" height="27.6" fill="#0000ff"/>
<rect x="1389.5" y="1479.5" width="27.6" height="27.6" fill="#0000ff"/>
<rect x="1536.4" y="1359.4" width="27.6" height="27.6" fill="#0000ff"/>
<rect x="1593.2" y="1400.5" width="27.6" height="27.6" fill="#0000ff"/>
<rect x="1622.4" y="1433.2" width="27.6" height="27.6" fill="#0000ff"/>
<text font-style="italic" transform="translate(1314.0,1799.0) scale(0.9623,1)" font-size="45.50" fill="#000">n</text><text font-style="italic" transform="translate(1342.7,1815.7) scale(1.1629,1)" font-size="25.48" fill="#000">D</text><text transform="translate(1373.2,1799.0) scale(1.1078,1)" font-size="45.50" fill="#000">(10</text><text transform="translate(1447.5,1775.7) scale(0.9891,1)" font-size="25.03" fill="#000">12</text><text transform="translate(1487.8,1799.0) scale(1.0507,1)" font-size="45.50" fill="#000">cm</text><text transform="translate(1556.1,1775.7) scale(1.1840,1)" font-size="25.03" fill="#000">-2</text><text transform="translate(1584.0,1799.0) scale(0.9023,1)" font-size="45.50" fill="#000">)</text>
<text transform="translate(1009.9,1543.1) rotate(-90) scale(1,1.048)" font-size="48.40" fill="#000">I(D') / I(G)</text>
<text x="979.9" y="1176.5" font-size="51.11" fill="#000">(e)</text>
<text x="1196.5" y="1326.7" font-size="48.45" fill="#ff0000">Vacancy</text>
<text x="1156.6" y="1385.0" font-size="34.44" fill="#000">(Eckmann. et al)</text>
<text x="1439.6" y="1622.3" font-size="34.40" fill="#000">(Eckmann. et al)</text>
<text transform="translate(1437.3,1564.0) scale(1.0200,1)" font-size="46.50" fill="#2db00f">sp</text><text transform="translate(1492.6,1542.3) scale(1.0475,1)" font-size="27.00" fill="#2db00f">3</text><text x="1520.9" y="1564.0" font-size="47.51" fill="#2db00f">bonding</text>
<path d="M1418.4,1314.7 L1450,1326" stroke="#ff0000" stroke-width="6.5" fill="none"/>
<path d="M1468.4,1332 L1437,1337 L1445.5,1311.3 Z" fill="#ff0000"/>
<path d="M1546.3,1524.7 V1470" stroke="#2db00f" stroke-width="6.5" fill="none"/>
<path d="M1546.3,1447.7 L1560,1474.5 L1546.3,1471 L1532,1474.5 Z" fill="#2db00f"/>
</g>
</svg></body></html>
